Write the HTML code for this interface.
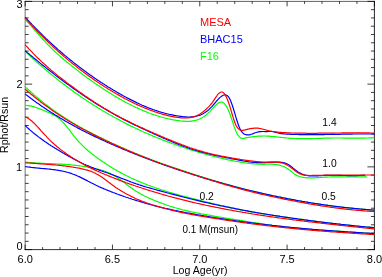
<!DOCTYPE html>
<html><head><meta charset="utf-8"><title>Rphot vs Age</title>
<style>
html,body{margin:0;padding:0;background:#fff;}
body{width:382px;height:277px;overflow:hidden;}
svg{display:block;transform:translateZ(0);will-change:transform;}
text.m{font-size:10.3px;}
text{font-family:"Liberation Sans",sans-serif;font-size:11px;fill:#000;}
</style></head><body>
<svg width="382" height="277" viewBox="0 0 382 277">
<rect width="382" height="277" fill="#fff"/>
<g fill="none" stroke="#000" stroke-width="1">
<path d="M25.15,250.1V0.8999999999999999" stroke-opacity="0.55"/>
<path d="M24.65,1.4H374.9" stroke-opacity="0.62"/>
<path d="M374.4,0.8999999999999999V250.1" stroke-opacity="0.85"/>
<path d="M24.65,249.6H374.9" stroke-opacity="0.8"/>
<path d="M25.15,249.6v-5.0M25.15,1.4v5.0M42.61,249.6v-2.5M42.61,1.4v2.5M60.07,249.6v-2.5M60.07,1.4v2.5M77.54,249.6v-2.5M77.54,1.4v2.5M95.00,249.6v-2.5M95.00,1.4v2.5M112.46,249.6v-5.0M112.46,1.4v5.0M129.93,249.6v-2.5M129.93,1.4v2.5M147.39,249.6v-2.5M147.39,1.4v2.5M164.85,249.6v-2.5M164.85,1.4v2.5M182.31,249.6v-2.5M182.31,1.4v2.5M199.78,249.6v-5.0M199.78,1.4v5.0M217.24,249.6v-2.5M217.24,1.4v2.5M234.70,249.6v-2.5M234.70,1.4v2.5M252.16,249.6v-2.5M252.16,1.4v2.5M269.62,249.6v-2.5M269.62,1.4v2.5M287.09,249.6v-5.0M287.09,1.4v5.0M304.55,249.6v-2.5M304.55,1.4v2.5M322.01,249.6v-2.5M322.01,1.4v2.5M339.47,249.6v-2.5M339.47,1.4v2.5M356.94,249.6v-2.5M356.94,1.4v2.5M374.40,249.6v-5.0M374.40,1.4v5.0M25.15,249.60h7.0M374.4,249.60h-7.0M25.15,241.33h3.5M374.4,241.33h-3.5M25.15,233.05h3.5M374.4,233.05h-3.5M25.15,224.78h3.5M374.4,224.78h-3.5M25.15,216.51h3.5M374.4,216.51h-3.5M25.15,208.23h3.5M374.4,208.23h-3.5M25.15,199.96h3.5M374.4,199.96h-3.5M25.15,191.69h3.5M374.4,191.69h-3.5M25.15,183.41h3.5M374.4,183.41h-3.5M25.15,175.14h3.5M374.4,175.14h-3.5M374.4,166.87h-7.0M25.15,158.59h3.5M374.4,158.59h-3.5M25.15,150.32h3.5M374.4,150.32h-3.5M25.15,142.05h3.5M374.4,142.05h-3.5M25.15,133.77h3.5M374.4,133.77h-3.5M25.15,125.50h3.5M374.4,125.50h-3.5M25.15,117.23h3.5M374.4,117.23h-3.5M25.15,108.95h3.5M374.4,108.95h-3.5M25.15,100.68h3.5M374.4,100.68h-3.5M25.15,92.41h3.5M374.4,92.41h-3.5M25.15,84.13h7.0M374.4,84.13h-7.0M25.15,75.86h3.5M374.4,75.86h-3.5M25.15,67.59h3.5M374.4,67.59h-3.5M25.15,59.31h3.5M374.4,59.31h-3.5M25.15,51.04h3.5M374.4,51.04h-3.5M25.15,42.77h3.5M374.4,42.77h-3.5M25.15,34.49h3.5M374.4,34.49h-3.5M25.15,26.22h3.5M374.4,26.22h-3.5M25.15,17.95h3.5M374.4,17.95h-3.5M25.15,9.67h3.5M374.4,9.67h-3.5M25.15,1.40h7.0M374.4,1.40h-7.0" stroke-opacity="0.75"/>
</g>
<g fill="none" stroke-width="1.2" stroke-linejoin="round" stroke-linecap="butt">
<path d="M25.1,19.4 L26.1,20.5 L27.1,21.5 L28.1,22.6 L29.1,23.7 L30.1,24.8 L31.1,25.9 L32.1,27.1 L33.1,28.2 L34.1,29.3 L35.1,30.5 L36.1,31.6 L37.1,32.7 L38.1,33.9 L39.1,35.0 L40.1,36.1 L41.1,37.3 L42.1,38.4 L43.1,39.5 L44.1,40.6 L45.1,41.7 L46.1,42.8 L47.1,43.8 L48.1,44.9 L49.1,45.9 L50.1,46.9 L51.1,47.9 L52.1,48.9 L53.1,49.8 L54.1,50.8 L55.1,51.7 L56.1,52.7 L57.1,53.6 L58.1,54.5 L59.1,55.4 L60.1,56.2 L61.1,57.1 L62.1,58.0 L63.1,58.8 L64.1,59.7 L65.1,60.5 L66.1,61.3 L67.1,62.2 L68.1,63.0 L69.1,63.8 L70.1,64.6 L71.1,65.4 L72.1,66.2 L73.1,67.0 L74.1,67.8 L75.1,68.6 L76.1,69.3 L77.1,70.1 L78.1,70.9 L79.1,71.7 L80.1,72.4 L81.1,73.2 L82.1,73.9 L83.1,74.7 L84.1,75.4 L85.1,76.2 L86.1,76.9 L87.1,77.7 L88.1,78.4 L89.1,79.1 L90.1,79.8 L91.1,80.5 L92.1,81.3 L93.1,82.0 L94.1,82.7 L95.1,83.4 L96.1,84.1 L97.1,84.7 L98.1,85.4 L99.1,86.1 L100.1,86.8 L101.1,87.4 L102.1,88.1 L103.1,88.8 L104.1,89.4 L105.1,90.1 L106.1,90.7 L107.1,91.3 L108.1,92.0 L109.1,92.6 L110.1,93.2 L111.1,93.8 L112.1,94.5 L113.1,95.1 L114.1,95.7 L115.1,96.3 L116.1,96.9 L117.1,97.4 L118.1,98.0 L119.1,98.6 L120.1,99.2 L121.1,99.7 L122.1,100.3 L123.1,100.8 L124.1,101.4 L125.1,101.9 L126.1,102.5 L127.1,103.0 L128.1,103.5 L129.1,104.0 L130.1,104.5 L131.1,105.0 L132.1,105.5 L133.1,106.0 L134.1,106.5 L135.1,107.0 L136.1,107.5 L137.1,107.9 L138.1,108.4 L139.1,108.8 L140.1,109.3 L141.1,109.7 L142.1,110.1 L143.1,110.6 L144.1,111.0 L145.1,111.4 L146.1,111.8 L147.1,112.2 L148.1,112.6 L149.1,113.0 L150.1,113.3 L151.1,113.7 L152.1,114.1 L153.1,114.4 L154.1,114.8 L155.1,115.1 L156.1,115.4 L157.1,115.8 L158.1,116.1 L159.1,116.4 L160.1,116.7 L161.1,117.0 L162.1,117.2 L163.1,117.5 L164.1,117.8 L165.1,118.0 L166.1,118.3 L167.1,118.5 L168.1,118.8 L169.1,119.0 L170.1,119.2 L171.1,119.4 L172.1,119.6 L173.1,119.8 L174.1,120.0 L175.1,120.1 L176.1,120.3 L177.1,120.5 L178.1,120.6 L179.1,120.7 L180.1,120.9 L181.1,121.0 L182.1,121.1 L183.1,121.2 L184.1,121.2 L185.1,121.3 L186.1,121.3 L187.1,121.4 L188.1,121.4 L189.1,121.3 L190.1,121.3 L191.1,121.2 L192.1,121.1 L193.1,120.9 L194.1,120.7 L195.1,120.5 L196.1,120.2 L197.1,119.9 L198.1,119.6 L199.1,119.2 L200.1,118.7 L201.1,118.2 L202.1,117.7 L203.1,117.1 L204.1,116.4 L205.1,115.7 L206.1,115.0 L207.1,114.1 L208.1,113.2 L209.1,112.3 L210.1,111.3 L211.1,110.2 L212.1,109.2 L213.1,108.1 L214.1,107.0 L215.1,105.9 L216.1,104.9 L217.1,104.0 L218.1,103.2 L219.1,102.6 L220.1,102.2 L221.1,102.1 L222.1,102.2 L223.1,102.6 L224.1,103.4 L225.1,104.5 L226.1,105.9 L227.1,107.6 L228.1,109.6 L229.1,111.9 L230.1,114.5 L231.1,117.4 L232.1,120.4 L233.1,123.4 L234.1,126.4 L235.1,129.1 L236.1,131.6 L237.1,133.6 L238.1,135.4 L239.1,136.7 L240.1,137.6 L241.1,138.2 L242.1,138.4 L243.1,138.5 L244.1,138.3 L245.1,138.1 L246.1,137.9 L247.1,137.7 L248.1,137.5 L249.1,137.3 L250.1,137.1 L251.1,137.0 L252.1,136.8 L253.1,136.7 L254.1,136.6 L255.1,136.5 L256.1,136.4 L257.1,136.3 L258.1,136.2 L259.1,136.2 L260.1,136.1 L261.1,136.1 L262.1,136.1 L263.1,136.0 L264.1,136.0 L265.1,136.0 L266.1,136.1 L267.1,136.1 L268.1,136.1 L269.1,136.2 L270.1,136.3 L271.1,136.3 L272.1,136.4 L273.1,136.5 L274.1,136.6 L275.1,136.7 L276.1,136.8 L277.1,136.9 L278.1,137.0 L279.1,137.2 L280.1,137.3 L281.1,137.4 L282.1,137.5 L283.1,137.6 L284.1,137.7 L285.1,137.8 L286.1,137.9 L287.1,138.0 L288.1,138.1 L289.1,138.2 L290.1,138.3 L291.1,138.3 L292.1,138.4 L293.1,138.4 L294.1,138.5 L295.1,138.5 L296.1,138.6 L297.1,138.6 L298.1,138.6 L299.1,138.6 L300.1,138.7 L301.1,138.7 L302.1,138.7 L303.1,138.7 L304.1,138.7 L305.1,138.7 L306.1,138.7 L307.1,138.7 L308.1,138.6 L309.1,138.6 L310.1,138.6 L311.1,138.6 L312.1,138.6 L313.1,138.5 L314.1,138.5 L315.1,138.5 L316.1,138.5 L317.1,138.4 L318.1,138.4 L319.1,138.4 L320.1,138.3 L321.1,138.3 L322.1,138.3 L323.1,138.2 L324.1,138.2 L325.1,138.2 L326.1,138.2 L327.1,138.1 L328.1,138.1 L329.1,138.1 L330.1,138.1 L331.1,138.1 L332.1,138.0 L333.1,138.0 L334.1,138.0 L335.1,138.0 L336.1,138.0 L337.1,138.0 L338.1,138.0 L339.1,138.0 L340.1,138.0 L341.1,138.0 L342.1,138.0 L343.1,138.1 L344.1,138.1 L345.1,138.1 L346.1,138.1 L347.1,138.1 L348.1,138.1 L349.1,138.1 L350.1,138.1 L351.1,138.1 L352.1,138.1 L353.1,138.1 L354.1,138.2 L355.1,138.2 L356.1,138.2 L357.1,138.2 L358.1,138.2 L359.1,138.2 L360.1,138.1 L361.1,138.1 L362.1,138.1 L363.1,138.1 L364.1,138.1 L365.1,138.1 L366.1,138.0 L367.1,138.0 L368.1,138.0 L369.1,137.9 L370.1,137.9 L371.1,137.8 L372.1,137.8 L373.1,137.7 L374.1,137.6 L374.5,137.6" stroke="#00ff00"/>
<path d="M25.1,51.3 L26.1,52.2 L27.1,53.1 L28.1,54.1 L29.1,55.0 L30.1,55.9 L31.1,56.9 L32.1,57.8 L33.1,58.7 L34.1,59.6 L35.1,60.5 L36.1,61.4 L37.1,62.3 L38.1,63.2 L39.1,64.1 L40.1,65.0 L41.1,65.8 L42.1,66.7 L43.1,67.6 L44.1,68.4 L45.1,69.3 L46.1,70.1 L47.1,71.0 L48.1,71.8 L49.1,72.6 L50.1,73.5 L51.1,74.3 L52.1,75.1 L53.1,75.9 L54.1,76.7 L55.1,77.5 L56.1,78.3 L57.1,79.1 L58.1,79.9 L59.1,80.7 L60.1,81.5 L61.1,82.3 L62.1,83.0 L63.1,83.8 L64.1,84.6 L65.1,85.3 L66.1,86.1 L67.1,86.8 L68.1,87.6 L69.1,88.3 L70.1,89.1 L71.1,89.8 L72.1,90.5 L73.1,91.2 L74.1,92.0 L75.1,92.7 L76.1,93.4 L77.1,94.1 L78.1,94.8 L79.1,95.5 L80.1,96.2 L81.1,96.9 L82.1,97.5 L83.1,98.2 L84.1,98.9 L85.1,99.6 L86.1,100.2 L87.1,100.9 L88.1,101.5 L89.1,102.2 L90.1,102.8 L91.1,103.5 L92.1,104.1 L93.1,104.8 L94.1,105.4 L95.1,106.0 L96.1,106.6 L97.1,107.3 L98.1,107.9 L99.1,108.5 L100.1,109.1 L101.1,109.7 L102.1,110.3 L103.1,110.9 L104.1,111.5 L105.1,112.1 L106.1,112.7 L107.1,113.2 L108.1,113.8 L109.1,114.4 L110.1,115.0 L111.1,115.5 L112.1,116.1 L113.1,116.7 L114.1,117.2 L115.1,117.8 L116.1,118.3 L117.1,118.8 L118.1,119.4 L119.1,119.9 L120.1,120.4 L121.1,121.0 L122.1,121.5 L123.1,122.0 L124.1,122.5 L125.1,123.1 L126.1,123.6 L127.1,124.1 L128.1,124.6 L129.1,125.1 L130.1,125.6 L131.1,126.1 L132.1,126.5 L133.1,127.0 L134.1,127.5 L135.1,128.0 L136.1,128.5 L137.1,128.9 L138.1,129.4 L139.1,129.9 L140.1,130.3 L141.1,130.8 L142.1,131.3 L143.1,131.7 L144.1,132.2 L145.1,132.6 L146.1,133.0 L147.1,133.5 L148.1,133.9 L149.1,134.4 L150.1,134.8 L151.1,135.2 L152.1,135.6 L153.1,136.1 L154.1,136.5 L155.1,136.9 L156.1,137.3 L157.1,137.7 L158.1,138.1 L159.1,138.5 L160.1,138.9 L161.1,139.3 L162.1,139.7 L163.1,140.1 L164.1,140.5 L165.1,140.9 L166.1,141.2 L167.1,141.6 L168.1,142.0 L169.1,142.4 L170.1,142.7 L171.1,143.1 L172.1,143.5 L173.1,143.8 L174.1,144.2 L175.1,144.6 L176.1,144.9 L177.1,145.3 L178.1,145.6 L179.1,146.0 L180.1,146.3 L181.1,146.6 L182.1,147.0 L183.1,147.3 L184.1,147.6 L185.1,148.0 L186.1,148.3 L187.1,148.6 L188.1,149.0 L189.1,149.3 L190.1,149.6 L191.1,149.9 L192.1,150.2 L193.1,150.5 L194.1,150.8 L195.1,151.1 L196.1,151.4 L197.1,151.8 L198.1,152.1 L199.1,152.3 L200.1,152.6 L201.1,152.9 L202.1,153.2 L203.1,153.5 L204.1,153.8 L205.1,154.1 L206.1,154.4 L207.1,154.6 L208.1,154.9 L209.1,155.2 L210.1,155.4 L211.1,155.7 L212.1,156.0 L213.1,156.2 L214.1,156.5 L215.1,156.7 L216.1,157.0 L217.1,157.2 L218.1,157.5 L219.1,157.7 L220.1,158.0 L221.1,158.2 L222.1,158.4 L223.1,158.7 L224.1,158.9 L225.1,159.1 L226.1,159.3 L227.1,159.6 L228.1,159.8 L229.1,160.0 L230.1,160.2 L231.1,160.4 L232.1,160.6 L233.1,160.8 L234.1,161.0 L235.1,161.2 L236.1,161.4 L237.1,161.5 L238.1,161.7 L239.1,161.9 L240.1,162.1 L241.1,162.2 L242.1,162.4 L243.1,162.5 L244.1,162.7 L245.1,162.8 L246.1,163.0 L247.1,163.1 L248.1,163.2 L249.1,163.4 L250.1,163.5 L251.1,163.6 L252.1,163.7 L253.1,163.8 L254.1,163.9 L255.1,164.0 L256.1,164.0 L257.1,164.1 L258.1,164.1 L259.1,164.2 L260.1,164.2 L261.1,164.2 L262.1,164.3 L263.1,164.3 L264.1,164.3 L265.1,164.2 L266.1,164.2 L267.1,164.2 L268.1,164.2 L269.1,164.2 L270.1,164.2 L271.1,164.2 L272.1,164.2 L273.1,164.3 L274.1,164.3 L275.1,164.4 L276.1,164.5 L277.1,164.7 L278.1,164.9 L279.1,165.1 L280.1,165.3 L281.1,165.6 L282.1,166.0 L283.1,166.3 L284.1,166.8 L285.1,167.3 L286.1,167.8 L287.1,168.4 L288.1,169.0 L289.1,169.7 L290.1,170.5 L291.1,171.3 L292.1,172.1 L293.1,172.9 L294.1,173.7 L295.1,174.4 L296.1,175.1 L297.1,175.6 L298.1,176.0 L299.1,176.4 L300.1,176.7 L301.1,177.0 L302.1,177.2 L303.1,177.4 L304.1,177.5 L305.1,177.6 L306.1,177.7 L307.1,177.8 L308.1,177.8 L309.1,177.8 L310.1,177.9 L311.1,177.9 L312.1,177.8 L313.1,177.8 L314.1,177.8 L315.1,177.8 L316.1,177.7 L317.1,177.7 L318.1,177.6 L319.1,177.6 L320.1,177.5 L321.1,177.4 L322.1,177.4 L323.1,177.3 L324.1,177.2 L325.1,177.2 L326.1,177.1 L327.1,177.1 L328.1,177.0 L329.1,177.0 L330.1,177.0 L331.1,176.9 L332.1,176.9 L333.1,176.9 L334.1,176.9 L335.1,176.8 L336.1,176.8 L337.1,176.8 L338.1,176.8 L339.1,176.8 L340.1,176.8 L341.1,176.8 L342.1,176.8 L343.1,176.8 L344.1,176.8 L345.1,176.8 L346.1,176.8 L347.1,176.8 L348.1,176.8 L349.1,176.8 L350.1,176.8 L351.1,176.8 L352.1,176.8 L353.1,176.8 L354.1,176.9 L355.1,176.9 L356.1,176.9 L357.1,176.9 L358.1,176.9 L359.1,176.9 L360.1,176.9 L361.1,176.9 L362.1,176.9 L363.1,176.9 L364.1,176.9 L365.1,176.9 L366.1,176.9 L366.8,176.9" stroke="#00ff00"/>
<path d="M25.1,86.6 L26.1,87.6 L27.1,88.5 L28.1,89.5 L29.1,90.4 L30.1,91.3 L31.1,92.2 L32.1,93.1 L33.1,94.0 L34.1,94.9 L35.1,95.7 L36.1,96.6 L37.1,97.4 L38.1,98.3 L39.1,99.1 L40.1,99.9 L41.1,100.8 L42.1,101.6 L43.1,102.4 L44.1,103.2 L45.1,104.0 L46.1,104.7 L47.1,105.5 L48.1,106.3 L49.1,107.0 L50.1,107.8 L51.1,108.5 L52.1,109.2 L53.1,110.0 L54.1,110.7 L55.1,111.4 L56.1,112.1 L57.1,112.8 L58.1,113.5 L59.1,114.1 L60.1,114.8 L61.1,115.5 L62.1,116.1 L63.1,116.8 L64.1,117.5 L65.1,118.1 L66.1,118.7 L67.1,119.4 L68.1,120.0 L69.1,120.6 L70.1,121.2 L71.1,121.8 L72.1,122.4 L73.1,123.0 L74.1,123.6 L75.1,124.2 L76.1,124.8 L77.1,125.3 L78.1,125.9 L79.1,126.5 L80.1,127.0 L81.1,127.6 L82.1,128.1 L83.1,128.7 L84.1,129.2 L85.1,129.8 L86.1,130.3 L87.1,130.8 L88.1,131.4 L89.1,131.9 L90.1,132.4 L91.1,132.9 L92.1,133.4 L93.1,134.0 L94.1,134.5 L95.1,135.0 L96.1,135.5 L97.1,136.0 L98.1,136.5 L99.1,137.0 L100.1,137.4 L101.1,137.9 L102.1,138.4 L103.1,138.9 L104.1,139.4 L105.1,139.9 L106.1,140.3 L107.1,140.8 L108.1,141.3 L109.1,141.8 L110.1,142.2 L111.1,142.7 L112.1,143.2 L113.1,143.6 L114.1,144.1 L115.1,144.5 L116.1,145.0 L117.1,145.4 L118.1,145.9 L119.1,146.3 L120.1,146.8 L121.1,147.2 L122.1,147.7 L123.1,148.1 L124.1,148.6 L125.1,149.0 L126.1,149.4 L127.1,149.9 L128.1,150.3 L129.1,150.7 L130.1,151.2 L131.1,151.6 L132.1,152.0 L133.1,152.4 L134.1,152.9 L135.1,153.3 L136.1,153.7 L137.1,154.1 L138.1,154.5 L139.1,154.9 L140.1,155.3 L141.1,155.7 L142.1,156.1 L143.1,156.5 L144.1,156.9 L145.1,157.3 L146.1,157.7 L147.1,158.1 L148.1,158.5 L149.1,158.8 L150.1,159.2 L151.1,159.6 L152.1,160.0 L153.1,160.3 L154.1,160.7 L155.1,161.1 L156.1,161.4 L157.1,161.8 L158.1,162.2 L159.1,162.5 L160.1,162.9 L161.1,163.3 L162.1,163.6 L163.1,164.0 L164.1,164.3 L165.1,164.7 L166.1,165.0 L167.1,165.4 L168.1,165.7 L169.1,166.0 L170.1,166.4 L171.1,166.7 L172.1,167.1 L173.1,167.4 L174.1,167.7 L175.1,168.1 L176.1,168.4 L177.1,168.8 L178.1,169.1 L179.1,169.4 L180.1,169.8 L181.1,170.1 L182.1,170.4 L183.1,170.8 L184.1,171.1 L185.1,171.4 L186.1,171.7 L187.1,172.1 L188.1,172.4 L189.1,172.7 L190.1,173.1 L191.1,173.4 L192.1,173.7 L193.1,174.0 L194.1,174.3 L195.1,174.7 L196.1,175.0 L197.1,175.3 L198.1,175.6 L199.1,175.9 L200.1,176.3 L201.1,176.6 L202.1,176.9 L203.1,177.2 L204.1,177.5 L205.1,177.8 L206.1,178.1 L207.1,178.4 L208.1,178.8 L209.1,179.1 L210.1,179.4 L211.1,179.7 L212.1,180.0 L213.1,180.3 L214.1,180.6 L215.1,180.9 L216.1,181.2 L217.1,181.5 L218.1,181.8 L219.1,182.1 L220.1,182.4 L221.1,182.6 L222.1,182.9 L223.1,183.2 L224.1,183.5 L225.1,183.8 L226.1,184.1 L227.1,184.4 L228.1,184.7 L229.1,184.9 L230.1,185.2 L231.1,185.5 L232.1,185.8 L233.1,186.0 L234.1,186.3 L235.1,186.6 L236.1,186.9 L237.1,187.1 L238.1,187.4 L239.1,187.7 L240.1,187.9 L241.1,188.2 L242.1,188.4 L243.1,188.7 L244.1,189.0 L245.1,189.2 L246.1,189.5 L247.1,189.7 L248.1,190.0 L249.1,190.2 L250.1,190.5 L251.1,190.7 L252.1,191.0 L253.1,191.2 L254.1,191.4 L255.1,191.7 L256.1,191.9 L257.1,192.2 L258.1,192.4 L259.1,192.6 L260.1,192.9 L261.1,193.1 L262.1,193.3 L263.1,193.6 L264.1,193.8 L265.1,194.0 L266.1,194.2 L267.1,194.4 L268.1,194.7 L269.1,194.9 L270.1,195.1 L271.1,195.3 L272.1,195.5 L273.1,195.7 L274.1,196.0 L275.1,196.2 L276.1,196.4 L277.1,196.6 L278.1,196.8 L279.1,197.0 L280.1,197.2 L281.1,197.4 L282.1,197.6 L283.1,197.8 L284.1,198.0 L285.1,198.2 L286.1,198.4 L287.1,198.6 L288.1,198.8 L289.1,199.0 L290.1,199.2 L291.1,199.4 L292.1,199.5 L293.1,199.7 L294.1,199.9 L295.1,200.1 L296.1,200.3 L297.1,200.5 L298.1,200.7 L299.1,200.8 L300.1,201.0 L301.1,201.2 L302.1,201.4 L303.1,201.5 L304.1,201.7 L305.1,201.9 L306.1,202.1 L307.1,202.2 L308.1,202.4 L309.1,202.6 L310.1,202.7 L311.1,202.9 L312.1,203.0 L313.1,203.2 L314.1,203.4 L315.1,203.5 L316.1,203.7 L317.1,203.8 L318.1,204.0 L319.1,204.1 L320.1,204.3 L321.1,204.4 L322.1,204.6 L323.1,204.7 L324.1,204.9 L325.1,205.0 L326.1,205.2 L327.1,205.3 L328.1,205.4 L329.1,205.6 L330.1,205.7 L331.1,205.8 L332.1,206.0 L333.1,206.1 L334.1,206.2 L335.1,206.4 L336.1,206.5 L337.1,206.6 L338.1,206.7 L339.1,206.9 L340.1,207.0 L341.1,207.1 L342.1,207.2 L343.1,207.3 L344.1,207.4 L345.1,207.5 L346.1,207.7 L347.1,207.8 L348.1,207.9 L349.1,208.0 L350.1,208.1 L351.1,208.2 L352.1,208.3 L353.1,208.4 L354.1,208.5 L355.1,208.6 L356.1,208.7 L357.1,208.7 L358.1,208.8 L359.1,208.9 L360.1,209.0 L361.1,209.1 L362.1,209.2 L363.1,209.3 L364.1,209.3 L365.1,209.4 L366.1,209.5 L367.1,209.6 L368.1,209.6 L369.1,209.7 L370.1,209.8 L371.1,209.8 L372.1,209.9 L373.1,210.0 L374.1,210.0 L374.5,210.0" stroke="#00ff00"/>
<path d="M25.1,105.3 L26.1,105.4 L27.1,105.5 L28.1,105.6 L29.1,105.8 L30.1,105.9 L31.1,106.1 L32.1,106.4 L33.1,106.6 L34.1,106.9 L35.1,107.2 L36.1,107.5 L37.1,107.9 L38.1,108.2 L39.1,108.6 L40.1,109.0 L41.1,109.4 L42.1,109.8 L43.1,110.2 L44.1,110.6 L45.1,111.0 L46.1,111.4 L47.1,111.9 L48.1,112.3 L49.1,112.7 L50.1,113.2 L51.1,113.6 L52.1,114.1 L53.1,114.6 L54.1,115.1 L55.1,115.7 L56.1,116.3 L57.1,117.0 L58.1,117.7 L59.1,118.5 L60.1,119.4 L61.1,120.3 L62.1,121.3 L63.1,122.4 L64.1,123.5 L65.1,124.6 L66.1,125.9 L67.1,127.1 L68.1,128.4 L69.1,129.6 L70.1,130.9 L71.1,132.3 L72.1,133.6 L73.1,134.9 L74.1,136.1 L75.1,137.4 L76.1,138.6 L77.1,139.8 L78.1,141.0 L79.1,142.1 L80.1,143.2 L81.1,144.2 L82.1,145.2 L83.1,146.2 L84.1,147.2 L85.1,148.1 L86.1,149.0 L87.1,149.8 L88.1,150.7 L89.1,151.5 L90.1,152.3 L91.1,153.1 L92.1,153.9 L93.1,154.7 L94.1,155.5 L95.1,156.2 L96.1,157.0 L97.1,157.7 L98.1,158.4 L99.1,159.2 L100.1,159.9 L101.1,160.6 L102.1,161.3 L103.1,162.0 L104.1,162.6 L105.1,163.3 L106.1,164.0 L107.1,164.6 L108.1,165.3 L109.1,165.9 L110.1,166.5 L111.1,167.2 L112.1,167.8 L113.1,168.4 L114.1,169.0 L115.1,169.6 L116.1,170.1 L117.1,170.7 L118.1,171.3 L119.1,171.8 L120.1,172.4 L121.1,172.9 L122.1,173.5 L123.1,174.0 L124.1,174.5 L125.1,175.0 L126.1,175.5 L127.1,176.0 L128.1,176.5 L129.1,177.0 L130.1,177.5 L131.1,178.0 L132.1,178.5 L133.1,178.9 L134.1,179.4 L135.1,179.8 L136.1,180.3 L137.1,180.7 L138.1,181.1 L139.1,181.6 L140.1,182.0 L141.1,182.4 L142.1,182.8 L143.1,183.2 L144.1,183.6 L145.1,184.0 L146.1,184.4 L147.1,184.8 L148.1,185.2 L149.1,185.5 L150.1,185.9 L151.1,186.3 L152.1,186.6 L153.1,187.0 L154.1,187.3 L155.1,187.7 L156.1,188.0 L157.1,188.4 L158.1,188.7 L159.1,189.0 L160.1,189.4 L161.1,189.7 L162.1,190.0 L163.1,190.3 L164.1,190.6 L165.1,191.0 L166.1,191.3 L167.1,191.6 L168.1,191.9 L169.1,192.2 L170.1,192.5 L171.1,192.7 L172.1,193.0 L173.1,193.3 L174.1,193.6 L175.1,193.9 L176.1,194.2 L177.1,194.4 L178.1,194.7 L179.1,195.0 L180.1,195.3 L181.1,195.5 L182.1,195.8 L183.1,196.1 L184.1,196.3 L185.1,196.6 L186.1,196.8 L187.1,197.1 L188.1,197.4 L189.1,197.6 L190.1,197.9 L191.1,198.1 L192.1,198.4 L193.1,198.6 L194.1,198.9 L195.1,199.1 L196.1,199.4 L197.1,199.6 L198.1,199.9 L199.1,200.1 L200.1,200.4 L201.1,200.6 L202.1,200.9 L203.1,201.1 L204.1,201.4 L205.1,201.6 L206.1,201.9 L207.1,202.1 L208.1,202.4 L209.1,202.6 L210.1,202.9 L211.1,203.1 L212.1,203.3 L213.1,203.6 L214.1,203.8 L215.1,204.1 L216.1,204.3 L217.1,204.6 L218.1,204.8 L219.1,205.0 L220.1,205.3 L221.1,205.5 L222.1,205.7 L223.1,206.0 L224.1,206.2 L225.1,206.4 L226.1,206.7 L227.1,206.9 L228.1,207.1 L229.1,207.3 L230.1,207.6 L231.1,207.8 L232.1,208.0 L233.1,208.2 L234.1,208.4 L235.1,208.7 L236.1,208.9 L237.1,209.1 L238.1,209.3 L239.1,209.5 L240.1,209.7 L241.1,209.9 L242.1,210.1 L243.1,210.3 L244.1,210.5 L245.1,210.7 L246.1,210.9 L247.1,211.1 L248.1,211.3 L249.1,211.4 L250.1,211.6 L251.1,211.8 L252.1,212.0 L253.1,212.2 L254.1,212.3 L255.1,212.5 L256.1,212.7 L257.1,212.8 L258.1,213.0 L259.1,213.2 L260.1,213.3 L261.1,213.5 L262.1,213.7 L263.1,213.8 L264.1,214.0 L265.1,214.1 L266.1,214.3 L267.1,214.4 L268.1,214.6 L269.1,214.7 L270.1,214.9 L271.1,215.0 L272.1,215.2 L273.1,215.3 L274.1,215.5 L275.1,215.6 L276.1,215.8 L277.1,215.9 L278.1,216.0 L279.1,216.2 L280.1,216.3 L281.1,216.5 L282.1,216.6 L283.1,216.8 L284.1,216.9 L285.1,217.0 L286.1,217.2 L287.1,217.3 L288.1,217.5 L289.1,217.6 L290.1,217.7 L291.1,217.9 L292.1,218.0 L293.1,218.2 L294.1,218.3 L295.1,218.4 L296.1,218.6 L297.1,218.7 L298.1,218.9 L299.1,219.0 L300.1,219.1 L301.1,219.3 L302.1,219.4 L303.1,219.6 L304.1,219.7 L305.1,219.8 L306.1,220.0 L307.1,220.1 L308.1,220.3 L309.1,220.4 L310.1,220.5 L311.1,220.7 L312.1,220.8 L313.1,220.9 L314.1,221.1 L315.1,221.2 L316.1,221.3 L317.1,221.5 L318.1,221.6 L319.1,221.7 L320.1,221.9 L321.1,222.0 L322.1,222.1 L323.1,222.3 L324.1,222.4 L325.1,222.5 L326.1,222.6 L327.1,222.8 L328.1,222.9 L329.1,223.0 L330.1,223.1 L331.1,223.3 L332.1,223.4 L333.1,223.5 L334.1,223.6 L335.1,223.7 L336.1,223.9 L337.1,224.0 L338.1,224.1 L339.1,224.2 L340.1,224.3 L341.1,224.5 L342.1,224.6 L343.1,224.7 L344.1,224.8 L345.1,224.9 L346.1,225.0 L347.1,225.1 L348.1,225.2 L349.1,225.3 L350.1,225.4 L351.1,225.5 L352.1,225.6 L353.1,225.7 L354.1,225.8 L355.1,225.9 L356.1,226.0 L357.1,226.1 L358.1,226.2 L359.1,226.3 L360.1,226.4 L361.1,226.5 L362.1,226.6 L363.1,226.7 L364.1,226.8 L365.1,226.9 L366.1,226.9 L367.1,227.0 L368.1,227.1 L369.1,227.2 L370.1,227.3 L371.1,227.3 L372.1,227.4 L373.1,227.5 L374.1,227.6 L374.5,227.6" stroke="#00ff00"/>
<path d="M25.1,162.1 L26.1,162.2 L27.1,162.3 L28.1,162.4 L29.1,162.5 L30.1,162.6 L31.1,162.7 L32.1,162.7 L33.1,162.8 L34.1,162.9 L35.1,162.9 L36.1,163.0 L37.1,163.1 L38.1,163.1 L39.1,163.2 L40.1,163.2 L41.1,163.3 L42.1,163.3 L43.1,163.4 L44.1,163.4 L45.1,163.5 L46.1,163.5 L47.1,163.5 L48.1,163.6 L49.1,163.6 L50.1,163.7 L51.1,163.7 L52.1,163.7 L53.1,163.8 L54.1,163.8 L55.1,163.9 L56.1,163.9 L57.1,164.0 L58.1,164.0 L59.1,164.1 L60.1,164.1 L61.1,164.2 L62.1,164.2 L63.1,164.3 L64.1,164.3 L65.1,164.4 L66.1,164.5 L67.1,164.5 L68.1,164.6 L69.1,164.7 L70.1,164.8 L71.1,164.9 L72.1,165.0 L73.1,165.1 L74.1,165.2 L75.1,165.3 L76.1,165.4 L77.1,165.5 L78.1,165.6 L79.1,165.7 L80.1,165.9 L81.1,166.0 L82.1,166.2 L83.1,166.3 L84.1,166.5 L85.1,166.6 L86.1,166.8 L87.1,167.0 L88.1,167.1 L89.1,167.3 L90.1,167.5 L91.1,167.7 L92.1,167.9 L93.1,168.1 L94.1,168.3 L95.1,168.5 L96.1,168.7 L97.1,169.0 L98.1,169.2 L99.1,169.5 L100.1,169.7 L101.1,170.0 L102.1,170.3 L103.1,170.6 L104.1,171.0 L105.1,171.3 L106.1,171.7 L107.1,172.1 L108.1,172.5 L109.1,173.0 L110.1,173.4 L111.1,173.9 L112.1,174.5 L113.1,175.0 L114.1,175.6 L115.1,176.2 L116.1,176.8 L117.1,177.5 L118.1,178.2 L119.1,178.9 L120.1,179.6 L121.1,180.3 L122.1,181.0 L123.1,181.8 L124.1,182.5 L125.1,183.3 L126.1,184.0 L127.1,184.8 L128.1,185.5 L129.1,186.3 L130.1,187.0 L131.1,187.8 L132.1,188.5 L133.1,189.2 L134.1,189.9 L135.1,190.5 L136.1,191.2 L137.1,191.8 L138.1,192.4 L139.1,193.0 L140.1,193.6 L141.1,194.2 L142.1,194.7 L143.1,195.2 L144.1,195.8 L145.1,196.3 L146.1,196.7 L147.1,197.2 L148.1,197.7 L149.1,198.1 L150.1,198.6 L151.1,199.0 L152.1,199.4 L153.1,199.9 L154.1,200.3 L155.1,200.7 L156.1,201.1 L157.1,201.5 L158.1,201.9 L159.1,202.2 L160.1,202.6 L161.1,203.0 L162.1,203.4 L163.1,203.7 L164.1,204.1 L165.1,204.5 L166.1,204.8 L167.1,205.2 L168.1,205.5 L169.1,205.8 L170.1,206.2 L171.1,206.5 L172.1,206.8 L173.1,207.1 L174.1,207.4 L175.1,207.7 L176.1,208.0 L177.1,208.3 L178.1,208.6 L179.1,208.9 L180.1,209.2 L181.1,209.4 L182.1,209.7 L183.1,210.0 L184.1,210.2 L185.1,210.4 L186.1,210.7 L187.1,210.9 L188.1,211.1 L189.1,211.4 L190.1,211.6 L191.1,211.8 L192.1,212.0 L193.1,212.2 L194.1,212.4 L195.1,212.6 L196.1,212.8 L197.1,213.0 L198.1,213.2 L199.1,213.4 L200.1,213.6 L201.1,213.8 L202.1,214.0 L203.1,214.1 L204.1,214.3 L205.1,214.5 L206.1,214.7 L207.1,214.9 L208.1,215.1 L209.1,215.2 L210.1,215.4 L211.1,215.6 L212.1,215.8 L213.1,215.9 L214.1,216.1 L215.1,216.3 L216.1,216.5 L217.1,216.6 L218.1,216.8 L219.1,217.0 L220.1,217.1 L221.1,217.3 L222.1,217.5 L223.1,217.6 L224.1,217.8 L225.1,218.0 L226.1,218.1 L227.1,218.3 L228.1,218.5 L229.1,218.6 L230.1,218.8 L231.1,219.0 L232.1,219.1 L233.1,219.3 L234.1,219.4 L235.1,219.6 L236.1,219.8 L237.1,219.9 L238.1,220.1 L239.1,220.2 L240.1,220.4 L241.1,220.6 L242.1,220.7 L243.1,220.9 L244.1,221.0 L245.1,221.2 L246.1,221.4 L247.1,221.5 L248.1,221.7 L249.1,221.8 L250.1,222.0 L251.1,222.2 L252.1,222.3 L253.1,222.5 L254.1,222.6 L255.1,222.8 L256.1,222.9 L257.1,223.1 L258.1,223.2 L259.1,223.4 L260.1,223.6 L261.1,223.7 L262.1,223.9 L263.1,224.0 L264.1,224.2 L265.1,224.3 L266.1,224.5 L267.1,224.6 L268.1,224.7 L269.1,224.9 L270.1,225.0 L271.1,225.2 L272.1,225.3 L273.1,225.5 L274.1,225.6 L275.1,225.7 L276.1,225.9 L277.1,226.0 L278.1,226.1 L279.1,226.3 L280.1,226.4 L281.1,226.5 L282.1,226.6 L283.1,226.8 L284.1,226.9 L285.1,227.0 L286.1,227.1 L287.1,227.2 L288.1,227.3 L289.1,227.4 L290.1,227.6 L291.1,227.7 L292.1,227.8 L293.1,227.9 L294.1,228.0 L295.1,228.1 L296.1,228.2 L297.1,228.2 L298.1,228.3 L299.1,228.4 L300.1,228.5 L301.1,228.6 L302.1,228.7 L303.1,228.8 L304.1,228.9 L305.1,228.9 L306.1,229.0 L307.1,229.1 L308.1,229.2 L309.1,229.3 L310.1,229.3 L311.1,229.4 L312.1,229.5 L313.1,229.5 L314.1,229.6 L315.1,229.7 L316.1,229.8 L317.1,229.8 L318.1,229.9 L319.1,230.0 L320.1,230.0 L321.1,230.1 L322.1,230.1 L323.1,230.2 L324.1,230.3 L325.1,230.3 L326.1,230.4 L327.1,230.5 L328.1,230.5 L329.1,230.6 L330.1,230.6 L331.1,230.7 L332.1,230.8 L333.1,230.8 L334.1,230.9 L335.1,231.0 L336.1,231.0 L337.1,231.1 L338.1,231.1 L339.1,231.2 L340.1,231.3 L341.1,231.3 L342.1,231.4 L343.1,231.4 L344.1,231.5 L345.1,231.6 L346.1,231.6 L347.1,231.7 L348.1,231.8 L349.1,231.8 L350.1,231.9 L351.1,232.0 L352.1,232.0 L353.1,232.1 L354.1,232.2 L355.1,232.2 L356.1,232.3 L357.1,232.4 L358.1,232.5 L359.1,232.5 L360.1,232.6 L361.1,232.7 L362.1,232.8 L363.1,232.8 L364.1,232.9 L365.1,233.0 L366.1,233.1 L367.1,233.2 L368.1,233.3 L369.1,233.3 L370.1,233.4 L371.1,233.5 L372.1,233.6 L373.1,233.7 L374.1,233.8 L374.5,233.9" stroke="#00ff00"/>
<path d="M25.1,17.1 L26.1,18.2 L27.1,19.2 L28.1,20.3 L29.1,21.4 L30.1,22.5 L31.1,23.5 L32.1,24.6 L33.1,25.6 L34.1,26.6 L35.1,27.7 L36.1,28.7 L37.1,29.7 L38.1,30.7 L39.1,31.7 L40.1,32.7 L41.1,33.7 L42.1,34.7 L43.1,35.7 L44.1,36.6 L45.1,37.6 L46.1,38.6 L47.1,39.5 L48.1,40.5 L49.1,41.4 L50.1,42.3 L51.1,43.3 L52.1,44.2 L53.1,45.1 L54.1,46.0 L55.1,46.9 L56.1,47.8 L57.1,48.7 L58.1,49.6 L59.1,50.4 L60.1,51.3 L61.1,52.2 L62.1,53.0 L63.1,53.9 L64.1,54.8 L65.1,55.6 L66.1,56.4 L67.1,57.3 L68.1,58.1 L69.1,58.9 L70.1,59.7 L71.1,60.5 L72.1,61.3 L73.1,62.1 L74.1,62.9 L75.1,63.7 L76.1,64.5 L77.1,65.3 L78.1,66.1 L79.1,66.8 L80.1,67.6 L81.1,68.3 L82.1,69.1 L83.1,69.8 L84.1,70.6 L85.1,71.3 L86.1,72.0 L87.1,72.8 L88.1,73.5 L89.1,74.2 L90.1,74.9 L91.1,75.6 L92.1,76.3 L93.1,77.0 L94.1,77.7 L95.1,78.4 L96.1,79.1 L97.1,79.7 L98.1,80.4 L99.1,81.1 L100.1,81.7 L101.1,82.4 L102.1,83.0 L103.1,83.7 L104.1,84.3 L105.1,85.0 L106.1,85.6 L107.1,86.2 L108.1,86.9 L109.1,87.5 L110.1,88.1 L111.1,88.7 L112.1,89.3 L113.1,89.9 L114.1,90.5 L115.1,91.1 L116.1,91.7 L117.1,92.3 L118.1,92.9 L119.1,93.4 L120.1,94.0 L121.1,94.6 L122.1,95.1 L123.1,95.7 L124.1,96.2 L125.1,96.8 L126.1,97.3 L127.1,97.9 L128.1,98.4 L129.1,98.9 L130.1,99.4 L131.1,99.9 L132.1,100.4 L133.1,100.9 L134.1,101.4 L135.1,101.9 L136.1,102.4 L137.1,102.9 L138.1,103.3 L139.1,103.8 L140.1,104.3 L141.1,104.7 L142.1,105.2 L143.1,105.6 L144.1,106.0 L145.1,106.4 L146.1,106.9 L147.1,107.3 L148.1,107.7 L149.1,108.1 L150.1,108.4 L151.1,108.8 L152.1,109.2 L153.1,109.6 L154.1,109.9 L155.1,110.3 L156.1,110.6 L157.1,110.9 L158.1,111.2 L159.1,111.6 L160.1,111.9 L161.1,112.2 L162.1,112.5 L163.1,112.7 L164.1,113.0 L165.1,113.3 L166.1,113.5 L167.1,113.8 L168.1,114.0 L169.1,114.3 L170.1,114.5 L171.1,114.7 L172.1,114.9 L173.1,115.1 L174.1,115.3 L175.1,115.5 L176.1,115.7 L177.1,115.8 L178.1,116.0 L179.1,116.1 L180.1,116.3 L181.1,116.4 L182.1,116.5 L183.1,116.7 L184.1,116.8 L185.1,116.8 L186.1,116.9 L187.1,117.0 L188.1,117.0 L189.1,117.0 L190.1,117.0 L191.1,116.9 L192.1,116.9 L193.1,116.8 L194.1,116.6 L195.1,116.5 L196.1,116.3 L197.1,116.0 L198.1,115.7 L199.1,115.4 L200.1,115.1 L201.1,114.7 L202.1,114.2 L203.1,113.7 L204.1,113.1 L205.1,112.5 L206.1,111.8 L207.1,111.1 L208.1,110.3 L209.1,109.4 L210.1,108.4 L211.1,107.4 L212.1,106.3 L213.1,105.1 L214.1,104.0 L215.1,102.8 L216.1,101.6 L217.1,100.5 L218.1,99.4 L219.1,98.3 L220.1,97.4 L221.1,96.6 L222.1,95.9 L223.1,95.3 L224.1,95.0 L225.1,94.8 L226.1,95.0 L227.1,95.5 L228.1,96.4 L229.1,97.7 L230.1,99.6 L231.1,101.9 L232.1,104.7 L233.1,107.8 L234.1,111.0 L235.1,114.4 L236.1,117.8 L237.1,121.0 L238.1,124.0 L239.1,126.7 L240.1,129.0 L241.1,130.8 L242.1,132.2 L243.1,133.2 L244.1,134.0 L245.1,134.4 L246.1,134.7 L247.1,134.9 L248.1,134.9 L249.1,134.8 L250.1,134.6 L251.1,134.3 L252.1,134.0 L253.1,133.6 L254.1,133.2 L255.1,132.8 L256.1,132.5 L257.1,132.2 L258.1,131.9 L259.1,131.8 L260.1,131.6 L261.1,131.6 L262.1,131.5 L263.1,131.5 L264.1,131.5 L265.1,131.6 L266.1,131.6 L267.1,131.6 L268.1,131.5 L269.1,131.5 L270.1,131.5 L271.1,131.5 L272.1,131.5 L273.1,131.7 L274.1,131.9 L275.1,132.1 L276.1,132.4 L277.1,132.7 L278.1,133.0 L279.1,133.2 L280.1,133.4 L281.1,133.6 L282.1,133.7 L283.1,133.8 L284.1,133.9 L285.1,134.0 L286.1,134.1 L287.1,134.1 L288.1,134.2 L289.1,134.2 L290.1,134.3 L291.1,134.3 L292.1,134.4 L293.1,134.4 L294.1,134.4 L295.1,134.5 L296.1,134.5 L297.1,134.5 L298.1,134.5 L299.1,134.6 L300.1,134.6 L301.1,134.6 L302.1,134.6 L303.1,134.6 L304.1,134.6 L305.1,134.7 L306.1,134.7 L307.1,134.7 L308.1,134.7 L309.1,134.7 L310.1,134.7 L311.1,134.7 L312.1,134.7 L313.1,134.7 L314.1,134.7 L315.1,134.7 L316.1,134.7 L317.1,134.6 L318.1,134.6 L319.1,134.6 L320.1,134.6 L321.1,134.6 L322.1,134.6 L323.1,134.6 L324.1,134.6 L325.1,134.5 L326.1,134.5 L327.1,134.5 L328.1,134.5 L329.1,134.5 L330.1,134.5 L331.1,134.4 L332.1,134.4 L333.1,134.4 L334.1,134.4 L335.1,134.4 L336.1,134.3 L337.1,134.3 L338.1,134.3 L339.1,134.3 L340.1,134.3 L341.1,134.2 L342.1,134.2 L343.1,134.2 L344.1,134.2 L345.1,134.2 L346.1,134.2 L347.1,134.1 L348.1,134.1 L349.1,134.1 L350.1,134.1 L351.1,134.1 L352.1,134.1 L353.1,134.0 L354.1,134.0 L355.1,134.0 L356.1,134.0 L357.1,134.0 L358.1,134.0 L359.1,134.0 L360.1,134.0 L361.1,134.0 L362.1,134.0 L363.1,134.0 L364.1,134.0 L365.1,134.0 L366.1,134.0 L367.1,134.0 L368.1,134.0 L369.1,134.0 L370.1,134.0 L371.1,134.0 L372.1,134.0 L373.1,134.1 L374.1,134.1 L374.5,134.1" stroke="#0000ff"/>
<path d="M25.1,50.7 L26.1,51.5 L27.1,52.4 L28.1,53.2 L29.1,54.0 L30.1,54.9 L31.1,55.7 L32.1,56.5 L33.1,57.4 L34.1,58.2 L35.1,59.0 L36.1,59.8 L37.1,60.6 L38.1,61.4 L39.1,62.3 L40.1,63.1 L41.1,63.9 L42.1,64.7 L43.1,65.5 L44.1,66.3 L45.1,67.1 L46.1,67.9 L47.1,68.7 L48.1,69.4 L49.1,70.2 L50.1,71.0 L51.1,71.8 L52.1,72.6 L53.1,73.3 L54.1,74.1 L55.1,74.9 L56.1,75.7 L57.1,76.4 L58.1,77.2 L59.1,77.9 L60.1,78.7 L61.1,79.4 L62.1,80.2 L63.1,80.9 L64.1,81.7 L65.1,82.4 L66.1,83.2 L67.1,83.9 L68.1,84.6 L69.1,85.3 L70.1,86.1 L71.1,86.8 L72.1,87.5 L73.1,88.2 L74.1,88.9 L75.1,89.6 L76.1,90.3 L77.1,91.0 L78.1,91.7 L79.1,92.4 L80.1,93.1 L81.1,93.8 L82.1,94.5 L83.1,95.2 L84.1,95.8 L85.1,96.5 L86.1,97.2 L87.1,97.8 L88.1,98.5 L89.1,99.2 L90.1,99.8 L91.1,100.5 L92.1,101.1 L93.1,101.8 L94.1,102.4 L95.1,103.0 L96.1,103.7 L97.1,104.3 L98.1,104.9 L99.1,105.5 L100.1,106.1 L101.1,106.7 L102.1,107.3 L103.1,107.9 L104.1,108.5 L105.1,109.1 L106.1,109.7 L107.1,110.3 L108.1,110.9 L109.1,111.5 L110.1,112.0 L111.1,112.6 L112.1,113.2 L113.1,113.7 L114.1,114.3 L115.1,114.8 L116.1,115.4 L117.1,115.9 L118.1,116.4 L119.1,117.0 L120.1,117.5 L121.1,118.0 L122.1,118.6 L123.1,119.1 L124.1,119.6 L125.1,120.1 L126.1,120.6 L127.1,121.1 L128.1,121.6 L129.1,122.1 L130.1,122.6 L131.1,123.1 L132.1,123.6 L133.1,124.1 L134.1,124.6 L135.1,125.1 L136.1,125.5 L137.1,126.0 L138.1,126.5 L139.1,127.0 L140.1,127.5 L141.1,127.9 L142.1,128.4 L143.1,128.9 L144.1,129.3 L145.1,129.8 L146.1,130.3 L147.1,130.7 L148.1,131.2 L149.1,131.6 L150.1,132.1 L151.1,132.5 L152.1,133.0 L153.1,133.5 L154.1,133.9 L155.1,134.4 L156.1,134.8 L157.1,135.3 L158.1,135.7 L159.1,136.2 L160.1,136.6 L161.1,137.0 L162.1,137.5 L163.1,137.9 L164.1,138.4 L165.1,138.8 L166.1,139.2 L167.1,139.7 L168.1,140.1 L169.1,140.5 L170.1,140.9 L171.1,141.3 L172.1,141.8 L173.1,142.2 L174.1,142.6 L175.1,143.0 L176.1,143.4 L177.1,143.8 L178.1,144.2 L179.1,144.6 L180.1,145.0 L181.1,145.3 L182.1,145.7 L183.1,146.1 L184.1,146.5 L185.1,146.8 L186.1,147.2 L187.1,147.5 L188.1,147.9 L189.1,148.2 L190.1,148.6 L191.1,148.9 L192.1,149.2 L193.1,149.6 L194.1,149.9 L195.1,150.2 L196.1,150.5 L197.1,150.8 L198.1,151.1 L199.1,151.4 L200.1,151.7 L201.1,151.9 L202.1,152.2 L203.1,152.5 L204.1,152.7 L205.1,153.0 L206.1,153.2 L207.1,153.5 L208.1,153.7 L209.1,154.0 L210.1,154.2 L211.1,154.5 L212.1,154.7 L213.1,154.9 L214.1,155.1 L215.1,155.4 L216.1,155.6 L217.1,155.8 L218.1,156.0 L219.1,156.2 L220.1,156.4 L221.1,156.6 L222.1,156.8 L223.1,157.0 L224.1,157.2 L225.1,157.4 L226.1,157.6 L227.1,157.8 L228.1,158.0 L229.1,158.2 L230.1,158.4 L231.1,158.6 L232.1,158.8 L233.1,159.0 L234.1,159.2 L235.1,159.4 L236.1,159.5 L237.1,159.7 L238.1,159.9 L239.1,160.1 L240.1,160.3 L241.1,160.5 L242.1,160.7 L243.1,160.9 L244.1,161.0 L245.1,161.2 L246.1,161.4 L247.1,161.5 L248.1,161.7 L249.1,161.8 L250.1,162.0 L251.1,162.1 L252.1,162.2 L253.1,162.3 L254.1,162.4 L255.1,162.5 L256.1,162.6 L257.1,162.6 L258.1,162.7 L259.1,162.7 L260.1,162.7 L261.1,162.7 L262.1,162.7 L263.1,162.7 L264.1,162.6 L265.1,162.6 L266.1,162.5 L267.1,162.5 L268.1,162.4 L269.1,162.3 L270.1,162.3 L271.1,162.2 L272.1,162.2 L273.1,162.1 L274.1,162.1 L275.1,162.1 L276.1,162.1 L277.1,162.1 L278.1,162.1 L279.1,162.2 L280.1,162.2 L281.1,162.3 L282.1,162.4 L283.1,162.6 L284.1,162.8 L285.1,163.1 L286.1,163.5 L287.1,163.9 L288.1,164.5 L289.1,165.1 L290.1,165.7 L291.1,166.5 L292.1,167.3 L293.1,168.1 L294.1,168.9 L295.1,169.7 L296.1,170.5 L297.1,171.2 L298.1,171.9 L299.1,172.5 L300.1,173.0 L301.1,173.5 L302.1,174.0 L303.1,174.4 L304.1,174.7 L305.1,175.0 L306.1,175.3 L307.1,175.5 L308.1,175.6 L309.1,175.8 L310.1,175.8 L311.1,175.9 L312.1,176.0 L313.1,176.0 L314.1,176.0 L315.1,175.9 L316.1,175.9 L317.1,175.9 L318.1,175.8 L319.1,175.7 L320.1,175.7 L321.1,175.6 L322.1,175.5 L323.1,175.5 L324.1,175.4 L325.1,175.4 L326.1,175.4 L327.1,175.3 L328.1,175.3 L329.1,175.3 L330.1,175.3 L331.1,175.3 L332.1,175.3 L333.1,175.3 L334.1,175.3 L335.1,175.3 L336.1,175.3 L337.1,175.3 L338.1,175.4 L339.1,175.4 L340.1,175.4 L341.1,175.4 L342.1,175.5 L343.1,175.5 L344.1,175.5 L345.1,175.5 L346.1,175.5 L347.1,175.6 L348.1,175.6 L349.1,175.6 L350.1,175.6 L351.1,175.6 L352.1,175.6 L353.1,175.6 L354.1,175.6 L355.1,175.6 L356.1,175.6 L357.1,175.6 L358.1,175.5 L359.1,175.5 L360.1,175.5 L361.1,175.4 L362.1,175.4 L363.1,175.3 L364.1,175.2 L365.0,175.2" stroke="#0000ff"/>
<path d="M25.1,93.9 L26.1,94.7 L27.1,95.4 L28.1,96.2 L29.1,97.0 L30.1,97.7 L31.1,98.5 L32.1,99.2 L33.1,100.0 L34.1,100.7 L35.1,101.4 L36.1,102.2 L37.1,102.9 L38.1,103.6 L39.1,104.3 L40.1,105.0 L41.1,105.7 L42.1,106.4 L43.1,107.1 L44.1,107.7 L45.1,108.4 L46.1,109.1 L47.1,109.8 L48.1,110.4 L49.1,111.1 L50.1,111.7 L51.1,112.4 L52.1,113.0 L53.1,113.6 L54.1,114.3 L55.1,114.9 L56.1,115.5 L57.1,116.1 L58.1,116.7 L59.1,117.3 L60.1,118.0 L61.1,118.5 L62.1,119.1 L63.1,119.7 L64.1,120.3 L65.1,120.9 L66.1,121.5 L67.1,122.0 L68.1,122.6 L69.1,123.2 L70.1,123.7 L71.1,124.3 L72.1,124.8 L73.1,125.4 L74.1,125.9 L75.1,126.5 L76.1,127.0 L77.1,127.6 L78.1,128.1 L79.1,128.6 L80.1,129.1 L81.1,129.7 L82.1,130.2 L83.1,130.7 L84.1,131.2 L85.1,131.7 L86.1,132.2 L87.1,132.7 L88.1,133.2 L89.1,133.7 L90.1,134.2 L91.1,134.7 L92.1,135.2 L93.1,135.6 L94.1,136.1 L95.1,136.6 L96.1,137.1 L97.1,137.5 L98.1,138.0 L99.1,138.5 L100.1,138.9 L101.1,139.4 L102.1,139.9 L103.1,140.3 L104.1,140.8 L105.1,141.2 L106.1,141.7 L107.1,142.1 L108.1,142.6 L109.1,143.0 L110.1,143.5 L111.1,143.9 L112.1,144.4 L113.1,144.8 L114.1,145.2 L115.1,145.7 L116.1,146.1 L117.1,146.5 L118.1,146.9 L119.1,147.4 L120.1,147.8 L121.1,148.2 L122.1,148.6 L123.1,149.1 L124.1,149.5 L125.1,149.9 L126.1,150.3 L127.1,150.7 L128.1,151.1 L129.1,151.6 L130.1,152.0 L131.1,152.4 L132.1,152.8 L133.1,153.2 L134.1,153.6 L135.1,154.0 L136.1,154.4 L137.1,154.8 L138.1,155.2 L139.1,155.6 L140.1,156.0 L141.1,156.3 L142.1,156.7 L143.1,157.1 L144.1,157.5 L145.1,157.9 L146.1,158.3 L147.1,158.7 L148.1,159.0 L149.1,159.4 L150.1,159.8 L151.1,160.2 L152.1,160.5 L153.1,160.9 L154.1,161.3 L155.1,161.6 L156.1,162.0 L157.1,162.4 L158.1,162.7 L159.1,163.1 L160.1,163.5 L161.1,163.8 L162.1,164.2 L163.1,164.5 L164.1,164.9 L165.1,165.2 L166.1,165.6 L167.1,166.0 L168.1,166.3 L169.1,166.6 L170.1,167.0 L171.1,167.3 L172.1,167.7 L173.1,168.0 L174.1,168.4 L175.1,168.7 L176.1,169.0 L177.1,169.4 L178.1,169.7 L179.1,170.1 L180.1,170.4 L181.1,170.7 L182.1,171.0 L183.1,171.4 L184.1,171.7 L185.1,172.0 L186.1,172.4 L187.1,172.7 L188.1,173.0 L189.1,173.3 L190.1,173.6 L191.1,174.0 L192.1,174.3 L193.1,174.6 L194.1,174.9 L195.1,175.2 L196.1,175.5 L197.1,175.8 L198.1,176.2 L199.1,176.5 L200.1,176.8 L201.1,177.1 L202.1,177.4 L203.1,177.7 L204.1,178.0 L205.1,178.3 L206.1,178.6 L207.1,178.9 L208.1,179.2 L209.1,179.5 L210.1,179.8 L211.1,180.1 L212.1,180.4 L213.1,180.6 L214.1,180.9 L215.1,181.2 L216.1,181.5 L217.1,181.8 L218.1,182.1 L219.1,182.4 L220.1,182.6 L221.1,182.9 L222.1,183.2 L223.1,183.5 L224.1,183.8 L225.1,184.0 L226.1,184.3 L227.1,184.6 L228.1,184.9 L229.1,185.1 L230.1,185.4 L231.1,185.7 L232.1,185.9 L233.1,186.2 L234.1,186.5 L235.1,186.7 L236.1,187.0 L237.1,187.3 L238.1,187.5 L239.1,187.8 L240.1,188.0 L241.1,188.3 L242.1,188.5 L243.1,188.8 L244.1,189.0 L245.1,189.3 L246.1,189.5 L247.1,189.8 L248.1,190.0 L249.1,190.3 L250.1,190.5 L251.1,190.8 L252.1,191.0 L253.1,191.2 L254.1,191.5 L255.1,191.7 L256.1,192.0 L257.1,192.2 L258.1,192.4 L259.1,192.7 L260.1,192.9 L261.1,193.1 L262.1,193.3 L263.1,193.6 L264.1,193.8 L265.1,194.0 L266.1,194.2 L267.1,194.5 L268.1,194.7 L269.1,194.9 L270.1,195.1 L271.1,195.3 L272.1,195.5 L273.1,195.8 L274.1,196.0 L275.1,196.2 L276.1,196.4 L277.1,196.6 L278.1,196.8 L279.1,197.0 L280.1,197.2 L281.1,197.4 L282.1,197.6 L283.1,197.8 L284.1,198.0 L285.1,198.2 L286.1,198.4 L287.1,198.6 L288.1,198.8 L289.1,199.0 L290.1,199.2 L291.1,199.4 L292.1,199.6 L293.1,199.7 L294.1,199.9 L295.1,200.1 L296.1,200.3 L297.1,200.5 L298.1,200.7 L299.1,200.8 L300.1,201.0 L301.1,201.2 L302.1,201.4 L303.1,201.5 L304.1,201.7 L305.1,201.9 L306.1,202.0 L307.1,202.2 L308.1,202.4 L309.1,202.5 L310.1,202.7 L311.1,202.9 L312.1,203.0 L313.1,203.2 L314.1,203.3 L315.1,203.5 L316.1,203.6 L317.1,203.8 L318.1,203.9 L319.1,204.1 L320.1,204.2 L321.1,204.4 L322.1,204.5 L323.1,204.7 L324.1,204.8 L325.1,205.0 L326.1,205.1 L327.1,205.2 L328.1,205.4 L329.1,205.5 L330.1,205.6 L331.1,205.8 L332.1,205.9 L333.1,206.0 L334.1,206.2 L335.1,206.3 L336.1,206.4 L337.1,206.5 L338.1,206.7 L339.1,206.8 L340.1,206.9 L341.1,207.0 L342.1,207.1 L343.1,207.3 L344.1,207.4 L345.1,207.5 L346.1,207.6 L347.1,207.7 L348.1,207.8 L349.1,207.9 L350.1,208.0 L351.1,208.1 L352.1,208.2 L353.1,208.3 L354.1,208.4 L355.1,208.5 L356.1,208.6 L357.1,208.7 L358.1,208.8 L359.1,208.9 L360.1,209.0 L361.1,209.1 L362.1,209.2 L363.1,209.3 L364.1,209.4 L365.1,209.4 L366.1,209.5 L367.1,209.6 L368.1,209.7 L369.1,209.8 L370.1,209.8 L371.1,209.9 L372.1,210.0 L373.1,210.1 L374.1,210.1 L374.5,210.2" stroke="#0000ff"/>
<path d="M25.1,125.4 L26.1,126.4 L27.1,127.4 L28.1,128.3 L29.1,129.2 L30.1,130.1 L31.1,130.9 L32.1,131.8 L33.1,132.6 L34.1,133.5 L35.1,134.3 L36.1,135.1 L37.1,135.8 L38.1,136.6 L39.1,137.4 L40.1,138.1 L41.1,138.8 L42.1,139.6 L43.1,140.3 L44.1,141.0 L45.1,141.7 L46.1,142.3 L47.1,143.0 L48.1,143.7 L49.1,144.4 L50.1,145.0 L51.1,145.7 L52.1,146.3 L53.1,146.9 L54.1,147.6 L55.1,148.2 L56.1,148.8 L57.1,149.4 L58.1,150.0 L59.1,150.6 L60.1,151.2 L61.1,151.8 L62.1,152.4 L63.1,153.0 L64.1,153.6 L65.1,154.2 L66.1,154.7 L67.1,155.3 L68.1,155.9 L69.1,156.4 L70.1,157.0 L71.1,157.5 L72.1,158.1 L73.1,158.6 L74.1,159.2 L75.1,159.7 L76.1,160.2 L77.1,160.8 L78.1,161.3 L79.1,161.8 L80.1,162.3 L81.1,162.8 L82.1,163.2 L83.1,163.7 L84.1,164.2 L85.1,164.6 L86.1,165.1 L87.1,165.5 L88.1,165.9 L89.1,166.3 L90.1,166.7 L91.1,167.1 L92.1,167.5 L93.1,167.9 L94.1,168.3 L95.1,168.6 L96.1,169.0 L97.1,169.3 L98.1,169.7 L99.1,170.1 L100.1,170.4 L101.1,170.8 L102.1,171.1 L103.1,171.4 L104.1,171.8 L105.1,172.1 L106.1,172.5 L107.1,172.8 L108.1,173.2 L109.1,173.5 L110.1,173.9 L111.1,174.3 L112.1,174.6 L113.1,175.0 L114.1,175.4 L115.1,175.7 L116.1,176.1 L117.1,176.5 L118.1,176.9 L119.1,177.3 L120.1,177.7 L121.1,178.1 L122.1,178.5 L123.1,178.9 L124.1,179.2 L125.1,179.6 L126.1,180.0 L127.1,180.4 L128.1,180.8 L129.1,181.2 L130.1,181.6 L131.1,182.0 L132.1,182.3 L133.1,182.7 L134.1,183.1 L135.1,183.4 L136.1,183.8 L137.1,184.1 L138.1,184.4 L139.1,184.8 L140.1,185.1 L141.1,185.4 L142.1,185.7 L143.1,186.1 L144.1,186.4 L145.1,186.7 L146.1,187.0 L147.1,187.3 L148.1,187.5 L149.1,187.8 L150.1,188.1 L151.1,188.4 L152.1,188.7 L153.1,189.0 L154.1,189.2 L155.1,189.5 L156.1,189.8 L157.1,190.1 L158.1,190.3 L159.1,190.6 L160.1,190.9 L161.1,191.2 L162.1,191.4 L163.1,191.7 L164.1,192.0 L165.1,192.2 L166.1,192.5 L167.1,192.8 L168.1,193.0 L169.1,193.3 L170.1,193.6 L171.1,193.8 L172.1,194.1 L173.1,194.4 L174.1,194.6 L175.1,194.9 L176.1,195.2 L177.1,195.4 L178.1,195.7 L179.1,195.9 L180.1,196.2 L181.1,196.5 L182.1,196.7 L183.1,197.0 L184.1,197.2 L185.1,197.5 L186.1,197.7 L187.1,198.0 L188.1,198.2 L189.1,198.5 L190.1,198.7 L191.1,199.0 L192.1,199.2 L193.1,199.5 L194.1,199.7 L195.1,199.9 L196.1,200.2 L197.1,200.4 L198.1,200.7 L199.1,200.9 L200.1,201.1 L201.1,201.4 L202.1,201.6 L203.1,201.8 L204.1,202.1 L205.1,202.3 L206.1,202.5 L207.1,202.7 L208.1,203.0 L209.1,203.2 L210.1,203.4 L211.1,203.6 L212.1,203.9 L213.1,204.1 L214.1,204.3 L215.1,204.5 L216.1,204.7 L217.1,205.0 L218.1,205.2 L219.1,205.4 L220.1,205.6 L221.1,205.8 L222.1,206.0 L223.1,206.2 L224.1,206.4 L225.1,206.6 L226.1,206.8 L227.1,207.0 L228.1,207.2 L229.1,207.4 L230.1,207.6 L231.1,207.8 L232.1,208.0 L233.1,208.2 L234.1,208.4 L235.1,208.6 L236.1,208.8 L237.1,209.0 L238.1,209.2 L239.1,209.4 L240.1,209.6 L241.1,209.8 L242.1,210.0 L243.1,210.2 L244.1,210.3 L245.1,210.5 L246.1,210.7 L247.1,210.9 L248.1,211.1 L249.1,211.3 L250.1,211.4 L251.1,211.6 L252.1,211.8 L253.1,212.0 L254.1,212.1 L255.1,212.3 L256.1,212.5 L257.1,212.7 L258.1,212.8 L259.1,213.0 L260.1,213.2 L261.1,213.3 L262.1,213.5 L263.1,213.7 L264.1,213.8 L265.1,214.0 L266.1,214.2 L267.1,214.3 L268.1,214.5 L269.1,214.7 L270.1,214.8 L271.1,215.0 L272.1,215.1 L273.1,215.3 L274.1,215.5 L275.1,215.6 L276.1,215.8 L277.1,215.9 L278.1,216.1 L279.1,216.2 L280.1,216.4 L281.1,216.5 L282.1,216.7 L283.1,216.8 L284.1,217.0 L285.1,217.1 L286.1,217.3 L287.1,217.4 L288.1,217.6 L289.1,217.7 L290.1,217.9 L291.1,218.0 L292.1,218.2 L293.1,218.3 L294.1,218.5 L295.1,218.6 L296.1,218.7 L297.1,218.9 L298.1,219.0 L299.1,219.2 L300.1,219.3 L301.1,219.4 L302.1,219.6 L303.1,219.7 L304.1,219.8 L305.1,220.0 L306.1,220.1 L307.1,220.2 L308.1,220.4 L309.1,220.5 L310.1,220.6 L311.1,220.8 L312.1,220.9 L313.1,221.0 L314.1,221.1 L315.1,221.3 L316.1,221.4 L317.1,221.5 L318.1,221.7 L319.1,221.8 L320.1,221.9 L321.1,222.0 L322.1,222.1 L323.1,222.3 L324.1,222.4 L325.1,222.5 L326.1,222.6 L327.1,222.8 L328.1,222.9 L329.1,223.0 L330.1,223.1 L331.1,223.2 L332.1,223.3 L333.1,223.5 L334.1,223.6 L335.1,223.7 L336.1,223.8 L337.1,223.9 L338.1,224.0 L339.1,224.1 L340.1,224.2 L341.1,224.4 L342.1,224.5 L343.1,224.6 L344.1,224.7 L345.1,224.8 L346.1,224.9 L347.1,225.0 L348.1,225.1 L349.1,225.2 L350.1,225.3 L351.1,225.4 L352.1,225.5 L353.1,225.6 L354.1,225.8 L355.1,225.9 L356.1,226.0 L357.1,226.1 L358.1,226.2 L359.1,226.3 L360.1,226.4 L361.1,226.5 L362.1,226.6 L363.1,226.7 L364.1,226.8 L365.1,226.9 L366.1,227.0 L367.1,227.0 L368.1,227.1 L369.1,227.2 L370.1,227.3 L371.1,227.4 L372.1,227.5 L373.1,227.6 L374.1,227.7 L374.5,227.7" stroke="#0000ff"/>
<path d="M25.1,166.5 L26.1,166.7 L27.1,166.8 L28.1,167.0 L29.1,167.1 L30.1,167.2 L31.1,167.4 L32.1,167.5 L33.1,167.6 L34.1,167.7 L35.1,167.8 L36.1,167.9 L37.1,168.0 L38.1,168.1 L39.1,168.2 L40.1,168.3 L41.1,168.4 L42.1,168.5 L43.1,168.6 L44.1,168.6 L45.1,168.7 L46.1,168.8 L47.1,168.9 L48.1,169.0 L49.1,169.1 L50.1,169.2 L51.1,169.3 L52.1,169.5 L53.1,169.6 L54.1,169.7 L55.1,169.8 L56.1,170.0 L57.1,170.1 L58.1,170.3 L59.1,170.5 L60.1,170.6 L61.1,170.8 L62.1,171.0 L63.1,171.2 L64.1,171.5 L65.1,171.7 L66.1,172.0 L67.1,172.2 L68.1,172.5 L69.1,172.8 L70.1,173.1 L71.1,173.4 L72.1,173.8 L73.1,174.2 L74.1,174.5 L75.1,174.9 L76.1,175.3 L77.1,175.8 L78.1,176.2 L79.1,176.6 L80.1,177.1 L81.1,177.6 L82.1,178.1 L83.1,178.6 L84.1,179.1 L85.1,179.6 L86.1,180.1 L87.1,180.6 L88.1,181.2 L89.1,181.7 L90.1,182.2 L91.1,182.8 L92.1,183.3 L93.1,183.8 L94.1,184.3 L95.1,184.8 L96.1,185.3 L97.1,185.7 L98.1,186.2 L99.1,186.7 L100.1,187.1 L101.1,187.6 L102.1,188.0 L103.1,188.4 L104.1,188.9 L105.1,189.3 L106.1,189.7 L107.1,190.1 L108.1,190.5 L109.1,190.9 L110.1,191.3 L111.1,191.7 L112.1,192.1 L113.1,192.5 L114.1,192.8 L115.1,193.2 L116.1,193.6 L117.1,194.0 L118.1,194.3 L119.1,194.7 L120.1,195.1 L121.1,195.4 L122.1,195.8 L123.1,196.1 L124.1,196.5 L125.1,196.8 L126.1,197.2 L127.1,197.5 L128.1,197.8 L129.1,198.2 L130.1,198.5 L131.1,198.8 L132.1,199.2 L133.1,199.5 L134.1,199.8 L135.1,200.1 L136.1,200.4 L137.1,200.7 L138.1,201.0 L139.1,201.3 L140.1,201.7 L141.1,201.9 L142.1,202.2 L143.1,202.5 L144.1,202.8 L145.1,203.1 L146.1,203.4 L147.1,203.7 L148.1,204.0 L149.1,204.2 L150.1,204.5 L151.1,204.8 L152.1,205.0 L153.1,205.3 L154.1,205.6 L155.1,205.8 L156.1,206.1 L157.1,206.3 L158.1,206.6 L159.1,206.8 L160.1,207.1 L161.1,207.3 L162.1,207.6 L163.1,207.8 L164.1,208.0 L165.1,208.3 L166.1,208.5 L167.1,208.7 L168.1,208.9 L169.1,209.2 L170.1,209.4 L171.1,209.6 L172.1,209.8 L173.1,210.0 L174.1,210.2 L175.1,210.5 L176.1,210.7 L177.1,210.9 L178.1,211.1 L179.1,211.3 L180.1,211.5 L181.1,211.7 L182.1,211.9 L183.1,212.1 L184.1,212.3 L185.1,212.5 L186.1,212.7 L187.1,212.8 L188.1,213.0 L189.1,213.2 L190.1,213.4 L191.1,213.6 L192.1,213.8 L193.1,213.9 L194.1,214.1 L195.1,214.3 L196.1,214.5 L197.1,214.7 L198.1,214.8 L199.1,215.0 L200.1,215.2 L201.1,215.4 L202.1,215.5 L203.1,215.7 L204.1,215.9 L205.1,216.0 L206.1,216.2 L207.1,216.4 L208.1,216.5 L209.1,216.7 L210.1,216.9 L211.1,217.0 L212.1,217.2 L213.1,217.3 L214.1,217.5 L215.1,217.7 L216.1,217.8 L217.1,218.0 L218.1,218.1 L219.1,218.3 L220.1,218.5 L221.1,218.6 L222.1,218.8 L223.1,218.9 L224.1,219.1 L225.1,219.2 L226.1,219.4 L227.1,219.5 L228.1,219.7 L229.1,219.8 L230.1,220.0 L231.1,220.1 L232.1,220.2 L233.1,220.4 L234.1,220.5 L235.1,220.7 L236.1,220.8 L237.1,221.0 L238.1,221.1 L239.1,221.2 L240.1,221.4 L241.1,221.5 L242.1,221.6 L243.1,221.8 L244.1,221.9 L245.1,222.0 L246.1,222.2 L247.1,222.3 L248.1,222.4 L249.1,222.6 L250.1,222.7 L251.1,222.8 L252.1,223.0 L253.1,223.1 L254.1,223.2 L255.1,223.3 L256.1,223.5 L257.1,223.6 L258.1,223.7 L259.1,223.8 L260.1,224.0 L261.1,224.1 L262.1,224.2 L263.1,224.3 L264.1,224.4 L265.1,224.6 L266.1,224.7 L267.1,224.8 L268.1,224.9 L269.1,225.0 L270.1,225.1 L271.1,225.2 L272.1,225.4 L273.1,225.5 L274.1,225.6 L275.1,225.7 L276.1,225.8 L277.1,225.9 L278.1,226.0 L279.1,226.1 L280.1,226.2 L281.1,226.3 L282.1,226.4 L283.1,226.5 L284.1,226.7 L285.1,226.8 L286.1,226.9 L287.1,227.0 L288.1,227.1 L289.1,227.2 L290.1,227.3 L291.1,227.4 L292.1,227.5 L293.1,227.6 L294.1,227.7 L295.1,227.8 L296.1,227.8 L297.1,227.9 L298.1,228.0 L299.1,228.1 L300.1,228.2 L301.1,228.3 L302.1,228.4 L303.1,228.5 L304.1,228.6 L305.1,228.7 L306.1,228.8 L307.1,228.9 L308.1,228.9 L309.1,229.0 L310.1,229.1 L311.1,229.2 L312.1,229.3 L313.1,229.4 L314.1,229.5 L315.1,229.5 L316.1,229.6 L317.1,229.7 L318.1,229.8 L319.1,229.9 L320.1,230.0 L321.1,230.0 L322.1,230.1 L323.1,230.2 L324.1,230.3 L325.1,230.3 L326.1,230.4 L327.1,230.5 L328.1,230.6 L329.1,230.7 L330.1,230.7 L331.1,230.8 L332.1,230.9 L333.1,230.9 L334.1,231.0 L335.1,231.1 L336.1,231.2 L337.1,231.2 L338.1,231.3 L339.1,231.4 L340.1,231.4 L341.1,231.5 L342.1,231.6 L343.1,231.6 L344.1,231.7 L345.1,231.8 L346.1,231.8 L347.1,231.9 L348.1,232.0 L349.1,232.0 L350.1,232.1 L351.1,232.2 L352.1,232.2 L353.1,232.3 L354.1,232.4 L355.1,232.4 L356.1,232.5 L357.1,232.5 L358.1,232.6 L359.1,232.7 L360.1,232.7 L361.1,232.8 L362.1,232.8 L363.1,232.9 L364.1,233.0 L365.1,233.0 L366.1,233.1 L367.1,233.1 L368.1,233.2 L369.1,233.2 L370.1,233.3 L371.1,233.3 L372.1,233.4 L373.1,233.4 L374.1,233.5 L374.5,233.5" stroke="#0000ff"/>
<path d="M25.1,17.9 L26.1,19.0 L27.1,20.2 L28.1,21.3 L29.1,22.4 L30.1,23.5 L31.1,24.6 L32.1,25.7 L33.1,26.8 L34.1,27.8 L35.1,28.9 L36.1,30.0 L37.1,31.0 L38.1,32.0 L39.1,33.1 L40.1,34.1 L41.1,35.1 L42.1,36.1 L43.1,37.1 L44.1,38.1 L45.1,39.1 L46.1,40.1 L47.1,41.1 L48.1,42.0 L49.1,43.0 L50.1,43.9 L51.1,44.9 L52.1,45.8 L53.1,46.8 L54.1,47.7 L55.1,48.6 L56.1,49.5 L57.1,50.4 L58.1,51.3 L59.1,52.2 L60.1,53.1 L61.1,54.0 L62.1,54.8 L63.1,55.7 L64.1,56.6 L65.1,57.4 L66.1,58.3 L67.1,59.1 L68.1,59.9 L69.1,60.8 L70.1,61.6 L71.1,62.4 L72.1,63.2 L73.1,64.0 L74.1,64.8 L75.1,65.6 L76.1,66.4 L77.1,67.2 L78.1,68.0 L79.1,68.8 L80.1,69.5 L81.1,70.3 L82.1,71.1 L83.1,71.8 L84.1,72.6 L85.1,73.3 L86.1,74.0 L87.1,74.8 L88.1,75.5 L89.1,76.2 L90.1,76.9 L91.1,77.6 L92.1,78.3 L93.1,79.0 L94.1,79.7 L95.1,80.4 L96.1,81.1 L97.1,81.8 L98.1,82.4 L99.1,83.1 L100.1,83.8 L101.1,84.4 L102.1,85.1 L103.1,85.7 L104.1,86.4 L105.1,87.0 L106.1,87.6 L107.1,88.3 L108.1,88.9 L109.1,89.5 L110.1,90.1 L111.1,90.7 L112.1,91.3 L113.1,91.9 L114.1,92.5 L115.1,93.1 L116.1,93.7 L117.1,94.2 L118.1,94.8 L119.1,95.4 L120.1,95.9 L121.1,96.5 L122.1,97.0 L123.1,97.6 L124.1,98.1 L125.1,98.7 L126.1,99.2 L127.1,99.7 L128.1,100.2 L129.1,100.7 L130.1,101.2 L131.1,101.7 L132.1,102.2 L133.1,102.7 L134.1,103.2 L135.1,103.7 L136.1,104.1 L137.1,104.6 L138.1,105.1 L139.1,105.5 L140.1,106.0 L141.1,106.4 L142.1,106.8 L143.1,107.3 L144.1,107.7 L145.1,108.1 L146.1,108.5 L147.1,108.9 L148.1,109.3 L149.1,109.7 L150.1,110.1 L151.1,110.4 L152.1,110.8 L153.1,111.2 L154.1,111.5 L155.1,111.9 L156.1,112.2 L157.1,112.5 L158.1,112.9 L159.1,113.2 L160.1,113.5 L161.1,113.8 L162.1,114.1 L163.1,114.4 L164.1,114.6 L165.1,114.9 L166.1,115.2 L167.1,115.4 L168.1,115.7 L169.1,115.9 L170.1,116.1 L171.1,116.3 L172.1,116.5 L173.1,116.7 L174.1,116.9 L175.1,117.1 L176.1,117.2 L177.1,117.4 L178.1,117.5 L179.1,117.6 L180.1,117.7 L181.1,117.8 L182.1,117.9 L183.1,117.9 L184.1,117.9 L185.1,117.9 L186.1,117.9 L187.1,117.9 L188.1,117.8 L189.1,117.7 L190.1,117.6 L191.1,117.4 L192.1,117.2 L193.1,117.0 L194.1,116.7 L195.1,116.3 L196.1,115.9 L197.1,115.5 L198.1,115.0 L199.1,114.5 L200.1,113.9 L201.1,113.2 L202.1,112.5 L203.1,111.8 L204.1,111.0 L205.1,110.1 L206.1,109.2 L207.1,108.3 L208.1,107.3 L209.1,106.3 L210.1,105.2 L211.1,104.0 L212.1,102.8 L213.1,101.4 L214.1,99.9 L215.1,98.4 L216.1,96.9 L217.1,95.5 L218.1,94.2 L219.1,93.2 L220.1,92.5 L221.1,92.0 L222.1,92.0 L223.1,92.5 L224.1,93.4 L225.1,94.8 L226.1,96.6 L227.1,98.8 L228.1,101.3 L229.1,104.1 L230.1,107.2 L231.1,110.6 L232.1,114.0 L233.1,117.4 L234.1,120.5 L235.1,123.2 L236.1,125.5 L237.1,127.2 L238.1,128.5 L239.1,129.4 L240.1,130.0 L241.1,130.3 L242.1,130.4 L243.1,130.3 L244.1,130.1 L245.1,129.9 L246.1,129.6 L247.1,129.4 L248.1,129.2 L249.1,128.9 L250.1,128.7 L251.1,128.6 L252.1,128.4 L253.1,128.3 L254.1,128.2 L255.1,128.1 L256.1,128.1 L257.1,128.2 L258.1,128.2 L259.1,128.4 L260.1,128.5 L261.1,128.7 L262.1,129.0 L263.1,129.2 L264.1,129.5 L265.1,129.7 L266.1,130.0 L267.1,130.3 L268.1,130.5 L269.1,130.8 L270.1,131.0 L271.1,131.2 L272.1,131.4 L273.1,131.5 L274.1,131.7 L275.1,131.8 L276.1,131.9 L277.1,132.1 L278.1,132.2 L279.1,132.3 L280.1,132.4 L281.1,132.4 L282.1,132.5 L283.1,132.6 L284.1,132.6 L285.1,132.7 L286.1,132.7 L287.1,132.8 L288.1,132.8 L289.1,132.9 L290.1,132.9 L291.1,133.0 L292.1,133.0 L293.1,133.0 L294.1,133.0 L295.1,133.1 L296.1,133.1 L297.1,133.1 L298.1,133.1 L299.1,133.2 L300.1,133.2 L301.1,133.2 L302.1,133.2 L303.1,133.2 L304.1,133.2 L305.1,133.2 L306.1,133.3 L307.1,133.3 L308.1,133.3 L309.1,133.3 L310.1,133.3 L311.1,133.3 L312.1,133.3 L313.1,133.3 L314.1,133.3 L315.1,133.3 L316.1,133.3 L317.1,133.3 L318.1,133.2 L319.1,133.2 L320.1,133.2 L321.1,133.2 L322.1,133.2 L323.1,133.2 L324.1,133.2 L325.1,133.2 L326.1,133.2 L327.1,133.2 L328.1,133.1 L329.1,133.1 L330.1,133.1 L331.1,133.1 L332.1,133.1 L333.1,133.1 L334.1,133.1 L335.1,133.0 L336.1,133.0 L337.1,133.0 L338.1,133.0 L339.1,133.0 L340.1,133.0 L341.1,133.0 L342.1,132.9 L343.1,132.9 L344.1,132.9 L345.1,132.9 L346.1,132.9 L347.1,132.9 L348.1,132.9 L349.1,132.9 L350.1,132.9 L351.1,132.9 L352.1,132.9 L353.1,132.8 L354.1,132.8 L355.1,132.8 L356.1,132.8 L357.1,132.8 L358.1,132.8 L359.1,132.8 L360.1,132.8 L361.1,132.8 L362.1,132.9 L363.1,132.9 L364.1,132.9 L365.1,132.9 L366.1,132.9 L367.1,132.9 L368.1,132.9 L369.1,132.9 L370.1,133.0 L371.1,133.0 L372.1,133.0 L373.1,133.0 L374.1,133.1 L374.5,133.1" stroke="#ff0000"/>
<path d="M25.1,44.6 L26.1,45.8 L27.1,46.9 L28.1,48.0 L29.1,49.1 L30.1,50.1 L31.1,51.2 L32.1,52.2 L33.1,53.3 L34.1,54.3 L35.1,55.3 L36.1,56.3 L37.1,57.3 L38.1,58.3 L39.1,59.2 L40.1,60.2 L41.1,61.1 L42.1,62.1 L43.1,63.0 L44.1,63.9 L45.1,64.8 L46.1,65.7 L47.1,66.6 L48.1,67.5 L49.1,68.4 L50.1,69.2 L51.1,70.1 L52.1,70.9 L53.1,71.8 L54.1,72.6 L55.1,73.4 L56.1,74.2 L57.1,75.1 L58.1,75.9 L59.1,76.7 L60.1,77.4 L61.1,78.2 L62.1,79.0 L63.1,79.8 L64.1,80.6 L65.1,81.3 L66.1,82.1 L67.1,82.9 L68.1,83.6 L69.1,84.4 L70.1,85.1 L71.1,85.8 L72.1,86.6 L73.1,87.3 L74.1,88.0 L75.1,88.8 L76.1,89.5 L77.1,90.2 L78.1,90.9 L79.1,91.7 L80.1,92.4 L81.1,93.1 L82.1,93.8 L83.1,94.5 L84.1,95.2 L85.1,95.9 L86.1,96.5 L87.1,97.2 L88.1,97.9 L89.1,98.6 L90.1,99.2 L91.1,99.9 L92.1,100.6 L93.1,101.2 L94.1,101.9 L95.1,102.5 L96.1,103.2 L97.1,103.8 L98.1,104.4 L99.1,105.1 L100.1,105.7 L101.1,106.3 L102.1,106.9 L103.1,107.5 L104.1,108.2 L105.1,108.8 L106.1,109.4 L107.1,109.9 L108.1,110.5 L109.1,111.1 L110.1,111.7 L111.1,112.3 L112.1,112.8 L113.1,113.4 L114.1,114.0 L115.1,114.5 L116.1,115.1 L117.1,115.6 L118.1,116.1 L119.1,116.7 L120.1,117.2 L121.1,117.7 L122.1,118.3 L123.1,118.8 L124.1,119.3 L125.1,119.8 L126.1,120.3 L127.1,120.8 L128.1,121.3 L129.1,121.8 L130.1,122.3 L131.1,122.8 L132.1,123.3 L133.1,123.7 L134.1,124.2 L135.1,124.7 L136.1,125.2 L137.1,125.6 L138.1,126.1 L139.1,126.6 L140.1,127.0 L141.1,127.5 L142.1,127.9 L143.1,128.4 L144.1,128.9 L145.1,129.3 L146.1,129.8 L147.1,130.2 L148.1,130.6 L149.1,131.1 L150.1,131.5 L151.1,132.0 L152.1,132.4 L153.1,132.8 L154.1,133.3 L155.1,133.7 L156.1,134.1 L157.1,134.6 L158.1,135.0 L159.1,135.4 L160.1,135.8 L161.1,136.3 L162.1,136.7 L163.1,137.1 L164.1,137.5 L165.1,138.0 L166.1,138.4 L167.1,138.8 L168.1,139.2 L169.1,139.6 L170.1,140.0 L171.1,140.4 L172.1,140.9 L173.1,141.3 L174.1,141.7 L175.1,142.1 L176.1,142.5 L177.1,142.8 L178.1,143.2 L179.1,143.6 L180.1,144.0 L181.1,144.4 L182.1,144.8 L183.1,145.1 L184.1,145.5 L185.1,145.9 L186.1,146.2 L187.1,146.6 L188.1,147.0 L189.1,147.3 L190.1,147.7 L191.1,148.0 L192.1,148.3 L193.1,148.7 L194.1,149.0 L195.1,149.3 L196.1,149.6 L197.1,150.0 L198.1,150.3 L199.1,150.6 L200.1,150.9 L201.1,151.2 L202.1,151.4 L203.1,151.7 L204.1,152.0 L205.1,152.3 L206.1,152.6 L207.1,152.8 L208.1,153.1 L209.1,153.3 L210.1,153.6 L211.1,153.8 L212.1,154.1 L213.1,154.3 L214.1,154.5 L215.1,154.8 L216.1,155.0 L217.1,155.2 L218.1,155.4 L219.1,155.6 L220.1,155.8 L221.1,156.0 L222.1,156.3 L223.1,156.4 L224.1,156.6 L225.1,156.8 L226.1,157.0 L227.1,157.2 L228.1,157.4 L229.1,157.6 L230.1,157.7 L231.1,157.9 L232.1,158.1 L233.1,158.3 L234.1,158.4 L235.1,158.6 L236.1,158.8 L237.1,158.9 L238.1,159.1 L239.1,159.2 L240.1,159.4 L241.1,159.5 L242.1,159.7 L243.1,159.8 L244.1,160.0 L245.1,160.1 L246.1,160.3 L247.1,160.4 L248.1,160.5 L249.1,160.7 L250.1,160.8 L251.1,160.9 L252.1,161.1 L253.1,161.2 L254.1,161.3 L255.1,161.4 L256.1,161.5 L257.1,161.6 L258.1,161.7 L259.1,161.8 L260.1,161.8 L261.1,161.9 L262.1,162.0 L263.1,162.0 L264.1,162.1 L265.1,162.1 L266.1,162.1 L267.1,162.1 L268.1,162.1 L269.1,162.1 L270.1,162.1 L271.1,162.1 L272.1,162.1 L273.1,162.1 L274.1,162.1 L275.1,162.1 L276.1,162.1 L277.1,162.2 L278.1,162.3 L279.1,162.4 L280.1,162.6 L281.1,162.8 L282.1,163.0 L283.1,163.3 L284.1,163.6 L285.1,164.0 L286.1,164.5 L287.1,165.0 L288.1,165.6 L289.1,166.2 L290.1,166.9 L291.1,167.7 L292.1,168.4 L293.1,169.2 L294.1,170.0 L295.1,170.7 L296.1,171.5 L297.1,172.2 L298.1,172.8 L299.1,173.4 L300.1,173.9 L301.1,174.3 L302.1,174.7 L303.1,174.9 L304.1,175.1 L305.1,175.3 L306.1,175.4 L307.1,175.4 L308.1,175.4 L309.1,175.5 L310.1,175.5 L311.1,175.5 L312.1,175.4 L313.1,175.4 L314.1,175.4 L315.1,175.4 L316.1,175.4 L317.1,175.4 L318.1,175.4 L319.1,175.3 L320.1,175.3 L321.1,175.3 L322.1,175.3 L323.1,175.3 L324.1,175.2 L325.1,175.2 L326.1,175.2 L327.1,175.2 L328.1,175.2 L329.1,175.1 L330.1,175.1 L331.1,175.1 L332.1,175.1 L333.1,175.1 L334.1,175.1 L335.1,175.1 L336.1,175.1 L337.1,175.1 L338.1,175.0 L339.1,175.0 L340.1,175.0 L341.1,175.0 L342.1,175.0 L343.1,175.0 L344.1,175.0 L345.1,175.0 L346.1,175.0 L347.1,175.0 L348.1,175.0 L349.1,175.0 L350.1,175.0 L351.1,175.0 L352.1,175.1 L353.1,175.1 L354.1,175.1 L355.1,175.1 L356.1,175.1 L357.1,175.1 L358.1,175.1 L359.1,175.1 L360.1,175.1 L361.1,175.1 L362.1,175.1 L363.1,175.1 L364.1,175.1 L365.1,175.1 L366.1,175.0 L367.1,175.0 L368.1,175.0 L369.1,175.0 L370.1,175.0 L371.1,175.0 L372.1,175.0 L373.1,175.0 L374.1,175.0 L374.5,174.9" stroke="#ff0000"/>
<path d="M25.1,89.1 L26.1,90.0 L27.1,90.8 L28.1,91.7 L29.1,92.5 L30.1,93.4 L31.1,94.2 L32.1,95.0 L33.1,95.8 L34.1,96.7 L35.1,97.5 L36.1,98.3 L37.1,99.1 L38.1,99.8 L39.1,100.6 L40.1,101.4 L41.1,102.2 L42.1,102.9 L43.1,103.7 L44.1,104.4 L45.1,105.2 L46.1,105.9 L47.1,106.6 L48.1,107.3 L49.1,108.1 L50.1,108.8 L51.1,109.5 L52.1,110.2 L53.1,110.9 L54.1,111.6 L55.1,112.2 L56.1,112.9 L57.1,113.6 L58.1,114.2 L59.1,114.9 L60.1,115.6 L61.1,116.2 L62.1,116.8 L63.1,117.5 L64.1,118.1 L65.1,118.7 L66.1,119.4 L67.1,120.0 L68.1,120.6 L69.1,121.2 L70.1,121.8 L71.1,122.4 L72.1,123.0 L73.1,123.5 L74.1,124.1 L75.1,124.7 L76.1,125.3 L77.1,125.8 L78.1,126.4 L79.1,127.0 L80.1,127.5 L81.1,128.1 L82.1,128.6 L83.1,129.2 L84.1,129.7 L85.1,130.2 L86.1,130.8 L87.1,131.3 L88.1,131.8 L89.1,132.3 L90.1,132.8 L91.1,133.4 L92.1,133.9 L93.1,134.4 L94.1,134.9 L95.1,135.4 L96.1,135.9 L97.1,136.4 L98.1,136.9 L99.1,137.4 L100.1,137.8 L101.1,138.3 L102.1,138.8 L103.1,139.3 L104.1,139.8 L105.1,140.2 L106.1,140.7 L107.1,141.2 L108.1,141.6 L109.1,142.1 L110.1,142.6 L111.1,143.0 L112.1,143.5 L113.1,144.0 L114.1,144.4 L115.1,144.9 L116.1,145.3 L117.1,145.8 L118.1,146.2 L119.1,146.7 L120.1,147.1 L121.1,147.6 L122.1,148.0 L123.1,148.4 L124.1,148.9 L125.1,149.3 L126.1,149.7 L127.1,150.2 L128.1,150.6 L129.1,151.0 L130.1,151.4 L131.1,151.9 L132.1,152.3 L133.1,152.7 L134.1,153.1 L135.1,153.5 L136.1,153.9 L137.1,154.3 L138.1,154.8 L139.1,155.2 L140.1,155.6 L141.1,156.0 L142.1,156.4 L143.1,156.7 L144.1,157.1 L145.1,157.5 L146.1,157.9 L147.1,158.3 L148.1,158.7 L149.1,159.1 L150.1,159.5 L151.1,159.8 L152.1,160.2 L153.1,160.6 L154.1,161.0 L155.1,161.3 L156.1,161.7 L157.1,162.1 L158.1,162.4 L159.1,162.8 L160.1,163.2 L161.1,163.5 L162.1,163.9 L163.1,164.2 L164.1,164.6 L165.1,164.9 L166.1,165.3 L167.1,165.6 L168.1,166.0 L169.1,166.3 L170.1,166.7 L171.1,167.0 L172.1,167.4 L173.1,167.7 L174.1,168.1 L175.1,168.4 L176.1,168.8 L177.1,169.1 L178.1,169.4 L179.1,169.8 L180.1,170.1 L181.1,170.5 L182.1,170.8 L183.1,171.1 L184.1,171.5 L185.1,171.8 L186.1,172.1 L187.1,172.5 L188.1,172.8 L189.1,173.1 L190.1,173.5 L191.1,173.8 L192.1,174.1 L193.1,174.5 L194.1,174.8 L195.1,175.1 L196.1,175.5 L197.1,175.8 L198.1,176.1 L199.1,176.4 L200.1,176.8 L201.1,177.1 L202.1,177.4 L203.1,177.7 L204.1,178.1 L205.1,178.4 L206.1,178.7 L207.1,179.0 L208.1,179.3 L209.1,179.6 L210.1,180.0 L211.1,180.3 L212.1,180.6 L213.1,180.9 L214.1,181.2 L215.1,181.5 L216.1,181.8 L217.1,182.1 L218.1,182.4 L219.1,182.8 L220.1,183.1 L221.1,183.4 L222.1,183.7 L223.1,184.0 L224.1,184.3 L225.1,184.6 L226.1,184.8 L227.1,185.1 L228.1,185.4 L229.1,185.7 L230.1,186.0 L231.1,186.3 L232.1,186.6 L233.1,186.9 L234.1,187.2 L235.1,187.4 L236.1,187.7 L237.1,188.0 L238.1,188.3 L239.1,188.5 L240.1,188.8 L241.1,189.1 L242.1,189.4 L243.1,189.6 L244.1,189.9 L245.1,190.1 L246.1,190.4 L247.1,190.7 L248.1,190.9 L249.1,191.2 L250.1,191.4 L251.1,191.7 L252.1,191.9 L253.1,192.2 L254.1,192.4 L255.1,192.7 L256.1,192.9 L257.1,193.1 L258.1,193.4 L259.1,193.6 L260.1,193.9 L261.1,194.1 L262.1,194.3 L263.1,194.5 L264.1,194.8 L265.1,195.0 L266.1,195.2 L267.1,195.5 L268.1,195.7 L269.1,195.9 L270.1,196.1 L271.1,196.3 L272.1,196.5 L273.1,196.8 L274.1,197.0 L275.1,197.2 L276.1,197.4 L277.1,197.6 L278.1,197.8 L279.1,198.0 L280.1,198.2 L281.1,198.4 L282.1,198.6 L283.1,198.9 L284.1,199.1 L285.1,199.3 L286.1,199.5 L287.1,199.7 L288.1,199.9 L289.1,200.1 L290.1,200.2 L291.1,200.4 L292.1,200.6 L293.1,200.8 L294.1,201.0 L295.1,201.2 L296.1,201.4 L297.1,201.6 L298.1,201.8 L299.1,202.0 L300.1,202.2 L301.1,202.3 L302.1,202.5 L303.1,202.7 L304.1,202.9 L305.1,203.1 L306.1,203.2 L307.1,203.4 L308.1,203.6 L309.1,203.8 L310.1,204.0 L311.1,204.1 L312.1,204.3 L313.1,204.5 L314.1,204.6 L315.1,204.8 L316.1,205.0 L317.1,205.1 L318.1,205.3 L319.1,205.5 L320.1,205.6 L321.1,205.8 L322.1,205.9 L323.1,206.1 L324.1,206.2 L325.1,206.4 L326.1,206.5 L327.1,206.7 L328.1,206.8 L329.1,207.0 L330.1,207.1 L331.1,207.3 L332.1,207.4 L333.1,207.5 L334.1,207.7 L335.1,207.8 L336.1,207.9 L337.1,208.1 L338.1,208.2 L339.1,208.3 L340.1,208.5 L341.1,208.6 L342.1,208.7 L343.1,208.8 L344.1,208.9 L345.1,209.1 L346.1,209.2 L347.1,209.3 L348.1,209.4 L349.1,209.5 L350.1,209.6 L351.1,209.7 L352.1,209.8 L353.1,209.9 L354.1,210.0 L355.1,210.1 L356.1,210.2 L357.1,210.3 L358.1,210.4 L359.1,210.5 L360.1,210.5 L361.1,210.6 L362.1,210.7 L363.1,210.8 L364.1,210.9 L365.1,210.9 L366.1,211.0 L367.1,211.1 L368.1,211.1 L369.1,211.2 L370.1,211.3 L371.1,211.3 L372.1,211.4 L373.1,211.4 L374.1,211.5 L374.5,211.5" stroke="#ff0000"/>
<path d="M25.1,116.8 L26.1,117.2 L27.1,117.7 L28.1,118.3 L29.1,118.9 L30.1,119.7 L31.1,120.5 L32.1,121.3 L33.1,122.3 L34.1,123.2 L35.1,124.2 L36.1,125.3 L37.1,126.4 L38.1,127.4 L39.1,128.5 L40.1,129.6 L41.1,130.8 L42.1,131.9 L43.1,133.0 L44.1,134.1 L45.1,135.2 L46.1,136.2 L47.1,137.3 L48.1,138.3 L49.1,139.4 L50.1,140.3 L51.1,141.3 L52.1,142.3 L53.1,143.2 L54.1,144.1 L55.1,145.0 L56.1,145.8 L57.1,146.7 L58.1,147.5 L59.1,148.3 L60.1,149.1 L61.1,149.9 L62.1,150.6 L63.1,151.4 L64.1,152.1 L65.1,152.8 L66.1,153.5 L67.1,154.2 L68.1,154.9 L69.1,155.6 L70.1,156.2 L71.1,156.9 L72.1,157.5 L73.1,158.2 L74.1,158.8 L75.1,159.4 L76.1,160.0 L77.1,160.6 L78.1,161.2 L79.1,161.8 L80.1,162.3 L81.1,162.9 L82.1,163.5 L83.1,164.0 L84.1,164.6 L85.1,165.1 L86.1,165.6 L87.1,166.1 L88.1,166.6 L89.1,167.1 L90.1,167.6 L91.1,168.1 L92.1,168.6 L93.1,169.1 L94.1,169.6 L95.1,170.1 L96.1,170.5 L97.1,171.0 L98.1,171.4 L99.1,171.9 L100.1,172.3 L101.1,172.8 L102.1,173.2 L103.1,173.6 L104.1,174.0 L105.1,174.5 L106.1,174.9 L107.1,175.3 L108.1,175.7 L109.1,176.1 L110.1,176.5 L111.1,176.9 L112.1,177.3 L113.1,177.7 L114.1,178.1 L115.1,178.5 L116.1,178.9 L117.1,179.3 L118.1,179.7 L119.1,180.1 L120.1,180.4 L121.1,180.8 L122.1,181.2 L123.1,181.6 L124.1,181.9 L125.1,182.3 L126.1,182.7 L127.1,183.0 L128.1,183.4 L129.1,183.7 L130.1,184.1 L131.1,184.4 L132.1,184.8 L133.1,185.1 L134.1,185.5 L135.1,185.8 L136.1,186.2 L137.1,186.5 L138.1,186.8 L139.1,187.2 L140.1,187.5 L141.1,187.8 L142.1,188.2 L143.1,188.5 L144.1,188.8 L145.1,189.1 L146.1,189.5 L147.1,189.8 L148.1,190.1 L149.1,190.4 L150.1,190.7 L151.1,191.0 L152.1,191.3 L153.1,191.6 L154.1,191.9 L155.1,192.2 L156.1,192.5 L157.1,192.8 L158.1,193.1 L159.1,193.4 L160.1,193.7 L161.1,194.0 L162.1,194.3 L163.1,194.6 L164.1,194.9 L165.1,195.2 L166.1,195.4 L167.1,195.7 L168.1,196.0 L169.1,196.3 L170.1,196.5 L171.1,196.8 L172.1,197.1 L173.1,197.3 L174.1,197.6 L175.1,197.9 L176.1,198.1 L177.1,198.4 L178.1,198.7 L179.1,198.9 L180.1,199.2 L181.1,199.4 L182.1,199.7 L183.1,199.9 L184.1,200.2 L185.1,200.4 L186.1,200.7 L187.1,200.9 L188.1,201.1 L189.1,201.4 L190.1,201.6 L191.1,201.9 L192.1,202.1 L193.1,202.3 L194.1,202.6 L195.1,202.8 L196.1,203.0 L197.1,203.3 L198.1,203.5 L199.1,203.7 L200.1,203.9 L201.1,204.2 L202.1,204.4 L203.1,204.6 L204.1,204.8 L205.1,205.0 L206.1,205.3 L207.1,205.5 L208.1,205.7 L209.1,205.9 L210.1,206.1 L211.1,206.3 L212.1,206.5 L213.1,206.7 L214.1,206.9 L215.1,207.1 L216.1,207.3 L217.1,207.5 L218.1,207.7 L219.1,207.9 L220.1,208.1 L221.1,208.3 L222.1,208.5 L223.1,208.7 L224.1,208.9 L225.1,209.1 L226.1,209.3 L227.1,209.5 L228.1,209.7 L229.1,209.9 L230.1,210.0 L231.1,210.2 L232.1,210.4 L233.1,210.6 L234.1,210.8 L235.1,211.0 L236.1,211.1 L237.1,211.3 L238.1,211.5 L239.1,211.7 L240.1,211.8 L241.1,212.0 L242.1,212.2 L243.1,212.4 L244.1,212.5 L245.1,212.7 L246.1,212.9 L247.1,213.0 L248.1,213.2 L249.1,213.4 L250.1,213.5 L251.1,213.7 L252.1,213.9 L253.1,214.0 L254.1,214.2 L255.1,214.3 L256.1,214.5 L257.1,214.6 L258.1,214.8 L259.1,215.0 L260.1,215.1 L261.1,215.3 L262.1,215.4 L263.1,215.6 L264.1,215.7 L265.1,215.9 L266.1,216.0 L267.1,216.2 L268.1,216.3 L269.1,216.5 L270.1,216.6 L271.1,216.8 L272.1,216.9 L273.1,217.0 L274.1,217.2 L275.1,217.3 L276.1,217.5 L277.1,217.6 L278.1,217.8 L279.1,217.9 L280.1,218.0 L281.1,218.2 L282.1,218.3 L283.1,218.4 L284.1,218.6 L285.1,218.7 L286.1,218.8 L287.1,219.0 L288.1,219.1 L289.1,219.2 L290.1,219.4 L291.1,219.5 L292.1,219.6 L293.1,219.8 L294.1,219.9 L295.1,220.0 L296.1,220.1 L297.1,220.3 L298.1,220.4 L299.1,220.5 L300.1,220.6 L301.1,220.8 L302.1,220.9 L303.1,221.0 L304.1,221.1 L305.1,221.3 L306.1,221.4 L307.1,221.5 L308.1,221.6 L309.1,221.8 L310.1,221.9 L311.1,222.0 L312.1,222.1 L313.1,222.2 L314.1,222.3 L315.1,222.5 L316.1,222.6 L317.1,222.7 L318.1,222.8 L319.1,222.9 L320.1,223.0 L321.1,223.2 L322.1,223.3 L323.1,223.4 L324.1,223.5 L325.1,223.6 L326.1,223.7 L327.1,223.8 L328.1,224.0 L329.1,224.1 L330.1,224.2 L331.1,224.3 L332.1,224.4 L333.1,224.5 L334.1,224.6 L335.1,224.7 L336.1,224.8 L337.1,225.0 L338.1,225.1 L339.1,225.2 L340.1,225.3 L341.1,225.4 L342.1,225.5 L343.1,225.6 L344.1,225.7 L345.1,225.8 L346.1,225.9 L347.1,226.0 L348.1,226.1 L349.1,226.3 L350.1,226.4 L351.1,226.5 L352.1,226.6 L353.1,226.7 L354.1,226.8 L355.1,226.9 L356.1,227.0 L357.1,227.1 L358.1,227.2 L359.1,227.3 L360.1,227.4 L361.1,227.5 L362.1,227.6 L363.1,227.7 L364.1,227.9 L365.1,228.0 L366.1,228.1 L367.1,228.2 L368.1,228.3 L369.1,228.4 L370.1,228.5 L371.1,228.6 L372.1,228.7 L373.1,228.8 L374.1,228.9 L374.5,229.0" stroke="#ff0000"/>
<path d="M25.1,162.7 L26.1,162.8 L27.1,162.9 L28.1,163.0 L29.1,163.0 L30.1,163.1 L31.1,163.2 L32.1,163.2 L33.1,163.3 L34.1,163.4 L35.1,163.4 L36.1,163.5 L37.1,163.6 L38.1,163.6 L39.1,163.7 L40.1,163.8 L41.1,163.8 L42.1,163.9 L43.1,164.0 L44.1,164.1 L45.1,164.1 L46.1,164.2 L47.1,164.3 L48.1,164.4 L49.1,164.4 L50.1,164.5 L51.1,164.6 L52.1,164.7 L53.1,164.8 L54.1,164.8 L55.1,164.9 L56.1,165.0 L57.1,165.1 L58.1,165.2 L59.1,165.3 L60.1,165.4 L61.1,165.5 L62.1,165.7 L63.1,165.8 L64.1,165.9 L65.1,166.0 L66.1,166.1 L67.1,166.3 L68.1,166.4 L69.1,166.5 L70.1,166.7 L71.1,166.8 L72.1,167.0 L73.1,167.2 L74.1,167.3 L75.1,167.5 L76.1,167.7 L77.1,167.8 L78.1,168.0 L79.1,168.2 L80.1,168.4 L81.1,168.6 L82.1,168.9 L83.1,169.1 L84.1,169.3 L85.1,169.6 L86.1,169.8 L87.1,170.1 L88.1,170.4 L89.1,170.7 L90.1,171.0 L91.1,171.4 L92.1,171.8 L93.1,172.2 L94.1,172.7 L95.1,173.1 L96.1,173.7 L97.1,174.2 L98.1,174.8 L99.1,175.4 L100.1,176.0 L101.1,176.6 L102.1,177.3 L103.1,178.0 L104.1,178.7 L105.1,179.5 L106.1,180.2 L107.1,181.0 L108.1,181.8 L109.1,182.5 L110.1,183.3 L111.1,184.1 L112.1,184.8 L113.1,185.6 L114.1,186.3 L115.1,187.0 L116.1,187.7 L117.1,188.3 L118.1,189.0 L119.1,189.6 L120.1,190.2 L121.1,190.8 L122.1,191.4 L123.1,192.0 L124.1,192.6 L125.1,193.2 L126.1,193.7 L127.1,194.3 L128.1,194.8 L129.1,195.3 L130.1,195.8 L131.1,196.4 L132.1,196.8 L133.1,197.3 L134.1,197.8 L135.1,198.3 L136.1,198.7 L137.1,199.2 L138.1,199.6 L139.1,200.0 L140.1,200.4 L141.1,200.8 L142.1,201.2 L143.1,201.6 L144.1,201.9 L145.1,202.3 L146.1,202.7 L147.1,203.0 L148.1,203.4 L149.1,203.7 L150.1,204.0 L151.1,204.3 L152.1,204.7 L153.1,205.0 L154.1,205.3 L155.1,205.6 L156.1,205.9 L157.1,206.2 L158.1,206.5 L159.1,206.8 L160.1,207.1 L161.1,207.4 L162.1,207.6 L163.1,207.9 L164.1,208.2 L165.1,208.5 L166.1,208.8 L167.1,209.0 L168.1,209.3 L169.1,209.5 L170.1,209.8 L171.1,210.1 L172.1,210.3 L173.1,210.6 L174.1,210.8 L175.1,211.0 L176.1,211.3 L177.1,211.5 L178.1,211.7 L179.1,212.0 L180.1,212.2 L181.1,212.4 L182.1,212.6 L183.1,212.8 L184.1,213.0 L185.1,213.2 L186.1,213.4 L187.1,213.6 L188.1,213.8 L189.1,214.0 L190.1,214.2 L191.1,214.4 L192.1,214.6 L193.1,214.7 L194.1,214.9 L195.1,215.1 L196.1,215.3 L197.1,215.4 L198.1,215.6 L199.1,215.8 L200.1,215.9 L201.1,216.1 L202.1,216.3 L203.1,216.4 L204.1,216.6 L205.1,216.8 L206.1,216.9 L207.1,217.1 L208.1,217.3 L209.1,217.4 L210.1,217.6 L211.1,217.8 L212.1,217.9 L213.1,218.1 L214.1,218.2 L215.1,218.4 L216.1,218.6 L217.1,218.7 L218.1,218.9 L219.1,219.0 L220.1,219.2 L221.1,219.3 L222.1,219.5 L223.1,219.7 L224.1,219.8 L225.1,220.0 L226.1,220.1 L227.1,220.3 L228.1,220.4 L229.1,220.6 L230.1,220.7 L231.1,220.9 L232.1,221.0 L233.1,221.1 L234.1,221.3 L235.1,221.4 L236.1,221.6 L237.1,221.7 L238.1,221.9 L239.1,222.0 L240.1,222.2 L241.1,222.3 L242.1,222.4 L243.1,222.6 L244.1,222.7 L245.1,222.9 L246.1,223.0 L247.1,223.1 L248.1,223.3 L249.1,223.4 L250.1,223.5 L251.1,223.7 L252.1,223.8 L253.1,223.9 L254.1,224.1 L255.1,224.2 L256.1,224.3 L257.1,224.4 L258.1,224.6 L259.1,224.7 L260.1,224.8 L261.1,224.9 L262.1,225.1 L263.1,225.2 L264.1,225.3 L265.1,225.4 L266.1,225.6 L267.1,225.7 L268.1,225.8 L269.1,225.9 L270.1,226.0 L271.1,226.2 L272.1,226.3 L273.1,226.4 L274.1,226.5 L275.1,226.6 L276.1,226.7 L277.1,226.8 L278.1,227.0 L279.1,227.1 L280.1,227.2 L281.1,227.3 L282.1,227.4 L283.1,227.5 L284.1,227.6 L285.1,227.7 L286.1,227.8 L287.1,227.9 L288.1,228.0 L289.1,228.1 L290.1,228.2 L291.1,228.3 L292.1,228.4 L293.1,228.5 L294.1,228.6 L295.1,228.7 L296.1,228.8 L297.1,228.9 L298.1,229.0 L299.1,229.1 L300.1,229.2 L301.1,229.3 L302.1,229.4 L303.1,229.5 L304.1,229.6 L305.1,229.7 L306.1,229.7 L307.1,229.8 L308.1,229.9 L309.1,230.0 L310.1,230.1 L311.1,230.2 L312.1,230.3 L313.1,230.3 L314.1,230.4 L315.1,230.5 L316.1,230.6 L317.1,230.7 L318.1,230.8 L319.1,230.8 L320.1,230.9 L321.1,231.0 L322.1,231.1 L323.1,231.2 L324.1,231.2 L325.1,231.3 L326.1,231.4 L327.1,231.5 L328.1,231.5 L329.1,231.6 L330.1,231.7 L331.1,231.8 L332.1,231.8 L333.1,231.9 L334.1,232.0 L335.1,232.0 L336.1,232.1 L337.1,232.2 L338.1,232.3 L339.1,232.3 L340.1,232.4 L341.1,232.5 L342.1,232.5 L343.1,232.6 L344.1,232.7 L345.1,232.7 L346.1,232.8 L347.1,232.9 L348.1,232.9 L349.1,233.0 L350.1,233.1 L351.1,233.1 L352.1,233.2 L353.1,233.3 L354.1,233.3 L355.1,233.4 L356.1,233.5 L357.1,233.5 L358.1,233.6 L359.1,233.6 L360.1,233.7 L361.1,233.8 L362.1,233.8 L363.1,233.9 L364.1,234.0 L365.1,234.0 L366.1,234.1 L367.1,234.1 L368.1,234.2 L369.1,234.3 L370.1,234.3 L371.1,234.4 L372.1,234.4 L373.1,234.5 L374.1,234.6 L374.5,234.6" stroke="#ff0000"/>
</g>
<g text-anchor="middle">
<text x="25.2" y="262.6">6.0</text>
<text x="112.4" y="262.6">6.5</text>
<text x="199.8" y="262.6">7.0</text>
<text x="287.1" y="262.6">7.5</text>
<text x="374.5" y="262.6">8.0</text>
<text x="200.1" y="274" style="font-size:10.6px">Log Age(yr)</text>
<text transform="translate(8.35,124.95) rotate(-90)" style="font-size:10.6px">Rphot/Rsun</text>
</g>
<g text-anchor="end">
<text x="22.6" y="250">0</text>
<text x="22.2" y="171">1</text>
<text x="22.6" y="87.7">2</text>
<text x="22.6" y="8.2">3</text>
</g>
<g>
<text x="200" y="26.2" style="fill:#ff0000">MESA</text>
<text x="200" y="43.1" style="fill:#0000ff">BHAC15</text>
<text x="200" y="59.9" style="fill:#00ff00">F16</text>
<text class="m" x="322.3" y="125.7">1.4</text>
<text class="m" x="322.3" y="166.9">1.0</text>
<text class="m" x="321.5" y="199.8">0.5</text>
<text class="m" x="199.5" y="199.8">0.2</text>
<text class="m" x="182.6" y="233.1" style="font-size:10.1px" textLength="55.4" lengthAdjust="spacingAndGlyphs">0.1 M(msun)</text>
</g>
</svg>
</body></html>
